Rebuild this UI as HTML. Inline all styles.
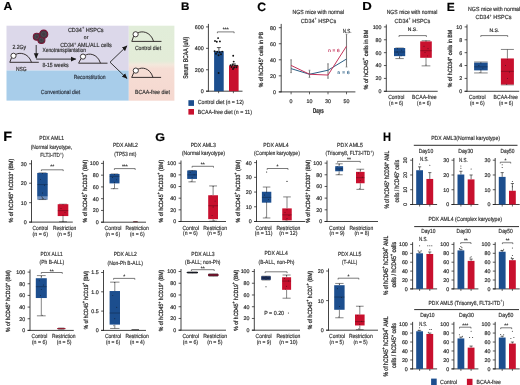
<!DOCTYPE html>
<html><head><meta charset="utf-8"><style>
html,body{margin:0;padding:0;background:#fff;width:520px;height:385px;overflow:hidden}
text{font-family:"Liberation Sans", sans-serif;text-rendering:geometricPrecision;stroke-width:0.18px;stroke-linejoin:round}
</style></head><body>
<svg width="520" height="385" viewBox="0 0 520 385" style="display:block;filter:blur(0.35px)">
<rect width="520" height="385" fill="#fff"/>
<g font-family='"Liberation Sans", sans-serif'>
<text x="3.40" y="10.00" font-size="11.67" fill="#000" font-weight="bold" textLength="8.80" lengthAdjust="spacingAndGlyphs" stroke="#000">A</text>
<defs><linearGradient id="gp" x1="0" y1="0" x2="0" y2="1"><stop offset="0" stop-color="#e1edd9"/><stop offset="0.47" stop-color="#e3ecd8"/><stop offset="0.52" stop-color="#f3e8dc"/><stop offset="0.575" stop-color="#f6ddd4"/><stop offset="1" stop-color="#f5d8d0"/></linearGradient></defs>
<rect x="6.50" y="25.70" width="122.30" height="44.80" fill="#dcd8ea"/>
<rect x="6.50" y="70.50" width="122.30" height="30.10" fill="#a8cdea"/>
<rect x="128.80" y="25.70" width="45.60" height="75.00" fill="url(#gp)"/>
<path d="M9.80,62.30 H38.80" stroke="#2e2828" stroke-width="0.95" fill="none"/>
<path d="M9.80,62.30 L11.55,57.62" stroke="#2e2828" stroke-width="0.95" fill="none"/>
<path d="M15.71,54.50 C18.90,52.29 28.30,52.42 31.50,62.30" stroke="#2e2828" stroke-width="0.95" fill="none"/>
<circle cx="13.50" cy="55.80" r="2.60" fill="#fff" stroke="#2e2828" stroke-width="0.9"/>
<path d="M78.60,63.20 H107.50" stroke="#2e2828" stroke-width="0.95" fill="none"/>
<path d="M78.60,63.20 L81.05,58.42" stroke="#2e2828" stroke-width="0.95" fill="none"/>
<path d="M85.21,55.30 C88.40,53.09 97.30,53.22 100.50,63.20" stroke="#2e2828" stroke-width="0.95" fill="none"/>
<circle cx="83.00" cy="56.60" r="2.60" fill="#fff" stroke="#2e2828" stroke-width="0.9"/>
<path d="M131.80,41.40 H161.50" stroke="#2e2828" stroke-width="0.95" fill="none"/>
<path d="M131.80,41.40 L133.65,36.12" stroke="#2e2828" stroke-width="0.95" fill="none"/>
<path d="M137.81,33.00 C141.00,30.79 150.40,30.92 153.60,41.40" stroke="#2e2828" stroke-width="0.95" fill="none"/>
<circle cx="135.60" cy="34.30" r="2.60" fill="#fff" stroke="#2e2828" stroke-width="0.9"/>
<path d="M131.70,77.40 H161.10" stroke="#2e2828" stroke-width="0.95" fill="none"/>
<path d="M131.70,77.40 L133.85,72.42" stroke="#2e2828" stroke-width="0.95" fill="none"/>
<path d="M138.01,69.30 C141.20,67.09 149.80,67.22 153.00,77.40" stroke="#2e2828" stroke-width="0.95" fill="none"/>
<circle cx="135.80" cy="70.60" r="2.60" fill="#fff" stroke="#2e2828" stroke-width="0.9"/>
<circle cx="36.80" cy="36.80" r="3.50" fill="#413a42" stroke="#7a1636" stroke-width="1.1"/>
<circle cx="41.40" cy="39.90" r="3.50" fill="#413a42" stroke="#7a1636" stroke-width="1.1"/>
<circle cx="43.70" cy="34.20" r="4.10" fill="#413a42" stroke="#7a1636" stroke-width="1.1"/>
<circle cx="36.80" cy="36.80" r="1.80" fill="none" stroke="#5a5560" stroke-width="0.5"/>
<circle cx="41.40" cy="39.90" r="1.80" fill="none" stroke="#5a5560" stroke-width="0.5"/>
<circle cx="43.70" cy="34.20" r="2.20" fill="none" stroke="#5a5560" stroke-width="0.5"/>
<defs><marker id="ah" markerWidth="6" markerHeight="6" refX="5" refY="3" orient="auto" markerUnits="userSpaceOnUse"><path d="M0,0.6 L5.5,3 L0,5.4 Z" fill="#1a1a1a"/></marker></defs>
<path d="M36.2,45 V58.2" stroke="#1a1a1a" stroke-width="0.85" fill="none" marker-end="url(#ah)"/>
<path d="M36.2,59.1 H75.8" stroke="#1a1a1a" stroke-width="0.85" fill="none" marker-end="url(#ah)"/>
<path d="M110,62.2 L127,45.9" stroke="#1a1a1a" stroke-width="0.85" fill="none" marker-end="url(#ah)"/>
<path d="M110,62.2 L127,78.5" stroke="#1a1a1a" stroke-width="0.85" fill="none" marker-end="url(#ah)"/>
<text x="12.40" y="49.30" font-size="5.90" fill="#303030" font-weight="normal" textLength="13.70" lengthAdjust="spacingAndGlyphs" stroke="#303030">2.2Gy</text>
<text x="15.90" y="71.00" font-size="5.90" fill="#303030" font-weight="normal" textLength="10.70" lengthAdjust="spacingAndGlyphs" stroke="#303030">NSG</text>
<text x="67.90" y="31.60" font-size="5.90" fill="#303030" font-weight="normal" textLength="35.70" lengthAdjust="spacingAndGlyphs" stroke="#303030">CD34<tspan dy="-2.48" font-size="4.13">+</tspan><tspan dy="2.48"> HSPCs</tspan></text>
<text x="86.10" y="38.90" font-size="5.00" fill="#303030" font-weight="normal" text-anchor="middle" stroke="#303030">or</text>
<text x="60.20" y="47.00" font-size="5.90" fill="#303030" font-weight="normal" textLength="51.50" lengthAdjust="spacingAndGlyphs" stroke="#303030">CD34<tspan dy="-2.48" font-size="4.13">+</tspan><tspan dy="2.48"> AML/ALL cells</tspan></text>
<text x="42.40" y="52.00" font-size="5.90" fill="#303030" font-weight="normal" textLength="43.60" lengthAdjust="spacingAndGlyphs" stroke="#303030">Xenotransplantation</text>
<text x="42.40" y="66.80" font-size="5.90" fill="#303030" font-weight="normal" textLength="26.30" lengthAdjust="spacingAndGlyphs" stroke="#303030">8-15 weeks</text>
<text x="73.70" y="79.00" font-size="5.90" fill="#2b3340" font-weight="normal" textLength="31.80" lengthAdjust="spacingAndGlyphs" stroke="#2b3340">Reconstitution</text>
<text x="40.80" y="94.00" font-size="5.90" fill="#2b3340" font-weight="normal" textLength="39.40" lengthAdjust="spacingAndGlyphs" stroke="#2b3340">Conventional diet</text>
<text x="134.90" y="50.00" font-size="5.90" fill="#303030" font-weight="normal" textLength="26.20" lengthAdjust="spacingAndGlyphs" stroke="#303030">Control diet</text>
<text x="134.90" y="93.60" font-size="5.90" fill="#303030" font-weight="normal" textLength="35.10" lengthAdjust="spacingAndGlyphs" stroke="#303030">BCAA-free diet</text>
<text x="181.10" y="10.30" font-size="10.97" fill="#000" font-weight="bold" textLength="8.40" lengthAdjust="spacingAndGlyphs" stroke="#000">B</text>
<line x1="208.40" y1="23.90" x2="208.40" y2="91.60" stroke="#222" stroke-width="0.85"/>
<line x1="206.00" y1="91.20" x2="242.50" y2="91.20" stroke="#222" stroke-width="0.85"/>
<line x1="206.00" y1="91.20" x2="208.40" y2="91.20" stroke="#222" stroke-width="0.75"/>
<text x="203.60" y="93.11" text-anchor="end" font-size="5.30" fill="#2a2a2a" stroke="#2a2a2a">0</text>
<line x1="206.00" y1="69.77" x2="208.40" y2="69.77" stroke="#222" stroke-width="0.75"/>
<text x="203.60" y="71.67" text-anchor="end" font-size="5.30" fill="#2a2a2a" stroke="#2a2a2a">200</text>
<line x1="206.00" y1="48.33" x2="208.40" y2="48.33" stroke="#222" stroke-width="0.75"/>
<text x="203.60" y="50.24" text-anchor="end" font-size="5.30" fill="#2a2a2a" stroke="#2a2a2a">400</text>
<line x1="206.00" y1="26.90" x2="208.40" y2="26.90" stroke="#222" stroke-width="0.75"/>
<text x="203.60" y="28.81" text-anchor="end" font-size="5.30" fill="#2a2a2a" stroke="#2a2a2a">600</text>
<rect x="214.10" y="51.23" width="9.60" height="39.97" fill="#1c4e8e"/>
<rect x="229.00" y="65.48" width="9.60" height="25.72" fill="#c8102e"/>
<line x1="218.90" y1="51.23" x2="218.90" y2="47.58" stroke="#111" stroke-width="0.7"/>
<line x1="216.90" y1="47.58" x2="220.90" y2="47.58" stroke="#111" stroke-width="0.7"/>
<line x1="233.80" y1="65.48" x2="233.80" y2="63.87" stroke="#111" stroke-width="0.7"/>
<line x1="231.80" y1="63.87" x2="235.80" y2="63.87" stroke="#111" stroke-width="0.7"/>
<circle cx="215.00" cy="41.00" r="0.95" fill="#111"/>
<circle cx="218.10" cy="38.10" r="0.95" fill="#111"/>
<circle cx="219.90" cy="41.40" r="0.95" fill="#111"/>
<circle cx="216.80" cy="41.70" r="0.95" fill="#111"/>
<circle cx="214.60" cy="51.20" r="0.95" fill="#111"/>
<circle cx="217.20" cy="51.80" r="0.95" fill="#111"/>
<circle cx="219.60" cy="52.20" r="0.95" fill="#111"/>
<circle cx="222.20" cy="51.60" r="0.95" fill="#111"/>
<circle cx="216.00" cy="53.80" r="0.95" fill="#111"/>
<circle cx="221.00" cy="54.20" r="0.95" fill="#111"/>
<circle cx="218.60" cy="55.20" r="0.95" fill="#111"/>
<circle cx="218.60" cy="73.00" r="0.95" fill="#111"/>
<circle cx="233.20" cy="55.80" r="0.95" fill="#111"/>
<circle cx="233.70" cy="61.60" r="0.95" fill="#111"/>
<circle cx="230.60" cy="65.20" r="0.95" fill="#111"/>
<circle cx="232.60" cy="65.00" r="0.95" fill="#111"/>
<circle cx="235.00" cy="65.50" r="0.95" fill="#111"/>
<circle cx="237.00" cy="65.60" r="0.95" fill="#111"/>
<circle cx="231.60" cy="67.00" r="0.95" fill="#111"/>
<circle cx="234.10" cy="67.50" r="0.95" fill="#111"/>
<circle cx="236.40" cy="67.20" r="0.95" fill="#111"/>
<circle cx="233.00" cy="69.00" r="0.95" fill="#111"/>
<line x1="218.60" y1="91.20" x2="218.60" y2="93.20" stroke="#222" stroke-width="0.7"/>
<line x1="233.40" y1="91.20" x2="233.40" y2="93.20" stroke="#222" stroke-width="0.7"/>
<path d="M217.40,33.20 V31.90 H234.10 V33.20" fill="none" stroke="#333" stroke-width="0.65"/>
<text x="225.75" y="31.40" text-anchor="middle" font-size="5.00" fill="#222" stroke="#222">***</text>
<text transform="translate(185.90,57.75) rotate(-90)" x="0" y="2.48" text-anchor="middle" font-size="6.90" fill="#2a2a2a" style="stroke-width:0.26px" textLength="42.10" lengthAdjust="spacingAndGlyphs" stroke="#2a2a2a">Serum BCAA (uM)</text>
<rect x="188.40" y="100.20" width="5.60" height="5.70" fill="#1c4e8e"/>
<rect x="188.40" y="109.00" width="5.60" height="5.60" fill="#c8102e"/>
<text x="197.80" y="104.40" font-size="5.90" fill="#303030" font-weight="normal" textLength="46.00" lengthAdjust="spacingAndGlyphs" stroke="#303030">Control diet (n = 12)</text>
<text x="197.80" y="113.50" font-size="5.90" fill="#303030" font-weight="normal" textLength="54.10" lengthAdjust="spacingAndGlyphs" stroke="#303030">BCAA-free diet (n = 11)</text>
<text x="257.20" y="10.80" font-size="12.08" fill="#000" font-weight="bold" textLength="8.80" lengthAdjust="spacingAndGlyphs" stroke="#000">C</text>
<line x1="281.20" y1="23.90" x2="281.20" y2="92.30" stroke="#222" stroke-width="0.85"/>
<line x1="278.80" y1="91.90" x2="355.40" y2="91.90" stroke="#222" stroke-width="0.85"/>
<line x1="278.80" y1="91.90" x2="281.20" y2="91.90" stroke="#222" stroke-width="0.75"/>
<text x="275.90" y="93.81" text-anchor="end" font-size="5.30" fill="#2a2a2a" stroke="#2a2a2a">0</text>
<line x1="278.80" y1="75.85" x2="281.20" y2="75.85" stroke="#222" stroke-width="0.75"/>
<text x="275.90" y="77.76" text-anchor="end" font-size="5.30" fill="#2a2a2a" stroke="#2a2a2a">20</text>
<line x1="278.80" y1="59.80" x2="281.20" y2="59.80" stroke="#222" stroke-width="0.75"/>
<text x="275.90" y="61.71" text-anchor="end" font-size="5.30" fill="#2a2a2a" stroke="#2a2a2a">40</text>
<line x1="278.80" y1="43.75" x2="281.20" y2="43.75" stroke="#222" stroke-width="0.75"/>
<text x="275.90" y="45.66" text-anchor="end" font-size="5.30" fill="#2a2a2a" stroke="#2a2a2a">60</text>
<line x1="278.80" y1="27.70" x2="281.20" y2="27.70" stroke="#222" stroke-width="0.75"/>
<text x="275.90" y="29.61" text-anchor="end" font-size="5.30" fill="#2a2a2a" stroke="#2a2a2a">80</text>
<line x1="291.10" y1="91.90" x2="291.10" y2="94.30" stroke="#222" stroke-width="0.7"/>
<line x1="309.50" y1="91.90" x2="309.50" y2="94.30" stroke="#222" stroke-width="0.7"/>
<line x1="328.00" y1="91.90" x2="328.00" y2="94.30" stroke="#222" stroke-width="0.7"/>
<line x1="346.50" y1="91.90" x2="346.50" y2="94.30" stroke="#222" stroke-width="0.7"/>
<text x="291.10" y="102.80" font-size="5.30" fill="#2a2a2a" font-weight="normal" text-anchor="middle" stroke="#2a2a2a">0</text>
<text x="309.50" y="102.80" font-size="5.30" fill="#2a2a2a" font-weight="normal" text-anchor="middle" stroke="#2a2a2a">10</text>
<text x="328.00" y="102.80" font-size="5.30" fill="#2a2a2a" font-weight="normal" text-anchor="middle" stroke="#2a2a2a">30</text>
<text x="346.50" y="102.80" font-size="5.30" fill="#2a2a2a" font-weight="normal" text-anchor="middle" stroke="#2a2a2a">50</text>
<text x="313.05" y="112.50" font-size="7.00" fill="#1a1a1a" font-weight="bold" textLength="10.70" lengthAdjust="spacingAndGlyphs" stroke="#1a1a1a">Days</text>
<text transform="translate(261.10,59.55) rotate(-90)" x="0" y="2.16" text-anchor="middle" font-size="6.00" fill="#2a2a2a" style="stroke-width:0.26px" textLength="55.50" lengthAdjust="spacingAndGlyphs" stroke="#2a2a2a">% of hCD45<tspan dy="-2.52" font-size="4.20">+</tspan><tspan dy="2.52"> cells in PB</tspan></text>
<text x="292.60" y="13.80" font-size="5.90" fill="#303030" font-weight="normal" textLength="51.30" lengthAdjust="spacingAndGlyphs" stroke="#303030">NGS mice with normal</text>
<text x="300.70" y="22.50" font-size="5.90" fill="#303030" font-weight="normal" textLength="35.40" lengthAdjust="spacingAndGlyphs" stroke="#303030">CD34<tspan dy="-2.48" font-size="4.13">+</tspan><tspan dy="2.48"> HSPCs</tspan></text>
<line x1="291.10" y1="72.64" x2="291.10" y2="59.80" stroke="#7c7c7c" stroke-width="1.1"/>
<line x1="290.20" y1="72.64" x2="292.00" y2="72.64" stroke="#7c7c7c" stroke-width="0.7"/>
<line x1="290.20" y1="59.80" x2="292.00" y2="59.80" stroke="#7c7c7c" stroke-width="0.7"/>
<line x1="309.50" y1="77.45" x2="309.50" y2="70.23" stroke="#7c7c7c" stroke-width="1.1"/>
<line x1="308.60" y1="77.45" x2="310.40" y2="77.45" stroke="#7c7c7c" stroke-width="0.7"/>
<line x1="308.60" y1="70.23" x2="310.40" y2="70.23" stroke="#7c7c7c" stroke-width="0.7"/>
<line x1="328.00" y1="78.26" x2="328.00" y2="63.81" stroke="#7c7c7c" stroke-width="1.1"/>
<line x1="327.10" y1="78.26" x2="328.90" y2="78.26" stroke="#7c7c7c" stroke-width="0.7"/>
<line x1="327.10" y1="63.81" x2="328.90" y2="63.81" stroke="#7c7c7c" stroke-width="0.7"/>
<line x1="346.50" y1="67.02" x2="346.50" y2="34.12" stroke="#7c7c7c" stroke-width="1.1"/>
<line x1="345.60" y1="67.02" x2="347.40" y2="67.02" stroke="#7c7c7c" stroke-width="0.7"/>
<line x1="345.60" y1="34.12" x2="347.40" y2="34.12" stroke="#7c7c7c" stroke-width="0.7"/>
<polyline points="291.10,68.63 309.50,74.25 328.00,70.23 346.50,59.00" fill="none" stroke="#2b5f86" stroke-width="1.0"/>
<polyline points="291.10,65.42 309.50,74.25 328.00,75.05 346.50,46.16" fill="none" stroke="#c4335a" stroke-width="1.0"/>
<text x="342.80" y="33.40" font-size="5.90" fill="#303030" font-weight="normal" textLength="8.80" lengthAdjust="spacingAndGlyphs" stroke="#303030">N.S.</text>
<text x="328.30" y="51.50" font-size="4.70" fill="#c4335a" font-weight="normal" textLength="11.30" lengthAdjust="spacing" stroke="#c4335a">n = 6</text>
<text x="337.50" y="73.90" font-size="4.70" fill="#2b5f86" font-weight="normal" textLength="12.10" lengthAdjust="spacing" stroke="#2b5f86">n = 6</text>
<text x="362.20" y="10.30" font-size="11.67" fill="#000" font-weight="bold" textLength="9.50" lengthAdjust="spacingAndGlyphs" stroke="#000">D</text>
<text x="386.70" y="13.70" font-size="5.90" fill="#303030" font-weight="normal" textLength="50.60" lengthAdjust="spacingAndGlyphs" stroke="#303030">NGS mice with normal</text>
<text x="394.50" y="22.50" font-size="5.90" fill="#303030" font-weight="normal" textLength="35.80" lengthAdjust="spacingAndGlyphs" stroke="#303030">CD34<tspan dy="-2.48" font-size="4.13">+</tspan><tspan dy="2.48"> HSPCs</tspan></text>
<line x1="386.30" y1="24.50" x2="386.30" y2="91.70" stroke="#222" stroke-width="0.85"/>
<line x1="383.90" y1="91.30" x2="437.70" y2="91.30" stroke="#222" stroke-width="0.85"/>
<line x1="383.90" y1="91.30" x2="386.30" y2="91.30" stroke="#222" stroke-width="0.75"/>
<text x="381.50" y="93.21" text-anchor="end" font-size="5.30" fill="#2a2a2a" stroke="#2a2a2a">0</text>
<line x1="383.90" y1="78.42" x2="386.30" y2="78.42" stroke="#222" stroke-width="0.75"/>
<text x="381.50" y="80.33" text-anchor="end" font-size="5.30" fill="#2a2a2a" stroke="#2a2a2a">20</text>
<line x1="383.90" y1="65.54" x2="386.30" y2="65.54" stroke="#222" stroke-width="0.75"/>
<text x="381.50" y="67.45" text-anchor="end" font-size="5.30" fill="#2a2a2a" stroke="#2a2a2a">40</text>
<line x1="383.90" y1="52.66" x2="386.30" y2="52.66" stroke="#222" stroke-width="0.75"/>
<text x="381.50" y="54.57" text-anchor="end" font-size="5.30" fill="#2a2a2a" stroke="#2a2a2a">60</text>
<line x1="383.90" y1="39.78" x2="386.30" y2="39.78" stroke="#222" stroke-width="0.75"/>
<text x="381.50" y="41.69" text-anchor="end" font-size="5.30" fill="#2a2a2a" stroke="#2a2a2a">80</text>
<line x1="383.90" y1="26.90" x2="386.30" y2="26.90" stroke="#222" stroke-width="0.75"/>
<text x="381.50" y="28.81" text-anchor="end" font-size="5.30" fill="#2a2a2a" stroke="#2a2a2a">100</text>
<line x1="399.60" y1="48.02" x2="399.60" y2="48.02" stroke="#333" stroke-width="0.6"/>
<line x1="399.60" y1="56.14" x2="399.60" y2="58.58" stroke="#333" stroke-width="0.6"/>
<line x1="395.40" y1="48.02" x2="403.80" y2="48.02" stroke="#333" stroke-width="0.6"/>
<line x1="395.40" y1="58.58" x2="403.80" y2="58.58" stroke="#333" stroke-width="0.6"/>
<rect x="394.00" y="48.02" width="11.20" height="8.11" fill="#1c4e8e"/>
<line x1="394.00" y1="52.02" x2="405.20" y2="52.02" stroke="rgba(0,0,0,0.55)" stroke-width="0.5"/>
<circle cx="397.60" cy="48.80" r="0.45" fill="#111"/>
<circle cx="401.60" cy="50.08" r="0.45" fill="#111"/>
<circle cx="398.60" cy="53.95" r="0.45" fill="#111"/>
<circle cx="401.10" cy="55.88" r="0.45" fill="#111"/>
<circle cx="399.60" cy="57.17" r="0.45" fill="#111"/>
<circle cx="397.10" cy="52.02" r="0.45" fill="#111"/>
<line x1="426.00" y1="40.75" x2="426.00" y2="41.39" stroke="#333" stroke-width="0.6"/>
<line x1="426.00" y1="57.81" x2="426.00" y2="65.86" stroke="#333" stroke-width="0.6"/>
<line x1="421.65" y1="40.75" x2="430.35" y2="40.75" stroke="#333" stroke-width="0.6"/>
<line x1="421.65" y1="65.86" x2="430.35" y2="65.86" stroke="#333" stroke-width="0.6"/>
<rect x="420.20" y="41.39" width="11.60" height="16.42" fill="#c8102e"/>
<line x1="420.20" y1="50.73" x2="431.80" y2="50.73" stroke="rgba(0,0,0,0.55)" stroke-width="0.5"/>
<circle cx="426.00" cy="41.07" r="0.45" fill="#111"/>
<circle cx="424.00" cy="46.22" r="0.45" fill="#111"/>
<circle cx="428.00" cy="48.80" r="0.45" fill="#111"/>
<circle cx="425.00" cy="52.66" r="0.45" fill="#111"/>
<circle cx="427.50" cy="55.88" r="0.45" fill="#111"/>
<circle cx="426.00" cy="64.90" r="0.45" fill="#111"/>
<path d="M399.00,36.90 V35.60 H426.40 V36.90" fill="none" stroke="#333" stroke-width="0.65"/>
<text x="412.70" y="30.70" text-anchor="middle" font-size="5.00" fill="#222" stroke="#222">N.S.</text>
<text transform="translate(365.40,59.60) rotate(-90)" x="0" y="2.16" text-anchor="middle" font-size="6.00" fill="#2a2a2a" style="stroke-width:0.26px" textLength="59.60" lengthAdjust="spacingAndGlyphs" stroke="#2a2a2a">% of hCD45<tspan dy="-2.52" font-size="4.20">+</tspan><tspan dy="2.52"> cells in BM</tspan></text>
<text x="388.20" y="99.40" font-size="5.90" fill="#303030" font-weight="normal" textLength="16.20" lengthAdjust="spacingAndGlyphs" stroke="#303030">Control</text>
<text x="389.10" y="105.30" font-size="5.90" fill="#303030" font-weight="normal" textLength="14.10" lengthAdjust="spacingAndGlyphs" stroke="#303030">(n = 6)</text>
<text x="412.10" y="99.40" font-size="5.90" fill="#303030" font-weight="normal" textLength="24.60" lengthAdjust="spacingAndGlyphs" stroke="#303030">BCAA-free</text>
<text x="417.10" y="105.30" font-size="5.90" fill="#303030" font-weight="normal" textLength="13.80" lengthAdjust="spacingAndGlyphs" stroke="#303030">(n = 6)</text>
<text x="446.70" y="10.80" font-size="11.81" fill="#000" font-weight="bold" textLength="8.00" lengthAdjust="spacingAndGlyphs" stroke="#000">E</text>
<text x="468.10" y="10.90" font-size="5.90" fill="#303030" font-weight="normal" textLength="52.00" lengthAdjust="spacingAndGlyphs" stroke="#303030">NGS mice with normal</text>
<text x="475.40" y="19.30" font-size="5.90" fill="#303030" font-weight="normal" textLength="36.00" lengthAdjust="spacingAndGlyphs" stroke="#303030">CD34<tspan dy="-2.48" font-size="4.13">+</tspan><tspan dy="2.48"> HSPCs</tspan></text>
<line x1="467.00" y1="24.50" x2="467.00" y2="91.70" stroke="#222" stroke-width="0.85"/>
<line x1="464.60" y1="91.30" x2="519.20" y2="91.30" stroke="#222" stroke-width="0.85"/>
<line x1="464.60" y1="91.30" x2="467.00" y2="91.30" stroke="#222" stroke-width="0.75"/>
<text x="462.20" y="93.21" text-anchor="end" font-size="5.30" fill="#2a2a2a" stroke="#2a2a2a">0</text>
<line x1="464.60" y1="78.42" x2="467.00" y2="78.42" stroke="#222" stroke-width="0.75"/>
<text x="462.20" y="80.33" text-anchor="end" font-size="5.30" fill="#2a2a2a" stroke="#2a2a2a">2</text>
<line x1="464.60" y1="65.54" x2="467.00" y2="65.54" stroke="#222" stroke-width="0.75"/>
<text x="462.20" y="67.45" text-anchor="end" font-size="5.30" fill="#2a2a2a" stroke="#2a2a2a">4</text>
<line x1="464.60" y1="52.66" x2="467.00" y2="52.66" stroke="#222" stroke-width="0.75"/>
<text x="462.20" y="54.57" text-anchor="end" font-size="5.30" fill="#2a2a2a" stroke="#2a2a2a">6</text>
<line x1="464.60" y1="39.78" x2="467.00" y2="39.78" stroke="#222" stroke-width="0.75"/>
<text x="462.20" y="41.69" text-anchor="end" font-size="5.30" fill="#2a2a2a" stroke="#2a2a2a">8</text>
<line x1="464.60" y1="26.90" x2="467.00" y2="26.90" stroke="#222" stroke-width="0.75"/>
<text x="462.20" y="28.81" text-anchor="end" font-size="5.30" fill="#2a2a2a" stroke="#2a2a2a">10</text>
<line x1="480.90" y1="62.00" x2="480.90" y2="62.64" stroke="#333" stroke-width="0.6"/>
<line x1="480.90" y1="70.37" x2="480.90" y2="72.95" stroke="#333" stroke-width="0.6"/>
<line x1="474.10" y1="62.00" x2="487.70" y2="62.00" stroke="#333" stroke-width="0.6"/>
<line x1="474.10" y1="72.95" x2="487.70" y2="72.95" stroke="#333" stroke-width="0.6"/>
<rect x="474.10" y="62.64" width="13.60" height="7.73" fill="#1c4e8e"/>
<line x1="474.10" y1="66.83" x2="487.70" y2="66.83" stroke="rgba(0,0,0,0.55)" stroke-width="0.5"/>
<circle cx="480.90" cy="62.96" r="0.45" fill="#111"/>
<circle cx="478.90" cy="65.54" r="0.45" fill="#111"/>
<circle cx="482.90" cy="68.12" r="0.45" fill="#111"/>
<circle cx="480.90" cy="70.05" r="0.45" fill="#111"/>
<circle cx="479.90" cy="72.62" r="0.45" fill="#111"/>
<line x1="507.40" y1="49.44" x2="507.40" y2="58.46" stroke="#333" stroke-width="0.6"/>
<line x1="507.40" y1="84.54" x2="507.40" y2="84.86" stroke="#333" stroke-width="0.6"/>
<line x1="500.90" y1="49.44" x2="513.90" y2="49.44" stroke="#333" stroke-width="0.6"/>
<line x1="500.90" y1="84.86" x2="513.90" y2="84.86" stroke="#333" stroke-width="0.6"/>
<rect x="500.90" y="58.46" width="13.00" height="26.08" fill="#c8102e"/>
<line x1="500.90" y1="71.34" x2="513.90" y2="71.34" stroke="rgba(0,0,0,0.55)" stroke-width="0.5"/>
<circle cx="507.40" cy="59.10" r="0.45" fill="#111"/>
<circle cx="505.40" cy="65.54" r="0.45" fill="#111"/>
<circle cx="509.40" cy="71.98" r="0.45" fill="#111"/>
<circle cx="507.40" cy="78.42" r="0.45" fill="#111"/>
<circle cx="506.40" cy="84.22" r="0.45" fill="#111"/>
<path d="M480.80,36.90 V35.60 H507.70 V36.90" fill="none" stroke="#333" stroke-width="0.65"/>
<text x="494.25" y="31.50" text-anchor="middle" font-size="5.00" fill="#222" stroke="#222">N.S.</text>
<text transform="translate(450.30,58.55) rotate(-90)" x="0" y="2.16" text-anchor="middle" font-size="6.00" fill="#2a2a2a" style="stroke-width:0.26px" textLength="57.50" lengthAdjust="spacingAndGlyphs" stroke="#2a2a2a">% of hCD34<tspan dy="-2.52" font-size="4.20">+</tspan><tspan dy="2.52"> cells in BM</tspan></text>
<text x="468.70" y="99.40" font-size="5.90" fill="#303030" font-weight="normal" textLength="16.90" lengthAdjust="spacingAndGlyphs" stroke="#303030">Control</text>
<text x="469.90" y="105.30" font-size="5.90" fill="#303030" font-weight="normal" textLength="14.70" lengthAdjust="spacingAndGlyphs" stroke="#303030">(n = 6)</text>
<text x="493.60" y="99.40" font-size="5.90" fill="#303030" font-weight="normal" textLength="24.20" lengthAdjust="spacingAndGlyphs" stroke="#303030">BCAA-free</text>
<text x="498.90" y="105.30" font-size="5.90" fill="#303030" font-weight="normal" textLength="14.20" lengthAdjust="spacingAndGlyphs" stroke="#303030">(n = 6)</text>
<text x="3.30" y="141.20" font-size="13.61" fill="#000" font-weight="bold" textLength="8.80" lengthAdjust="spacingAndGlyphs" stroke="#000">F</text>
<text x="39.30" y="140.40" font-size="5.90" fill="#303030" font-weight="normal" textLength="24.70" lengthAdjust="spacingAndGlyphs" stroke="#303030">PDX AML1</text>
<text x="30.70" y="149.40" font-size="5.90" fill="#303030" font-weight="normal" textLength="41.50" lengthAdjust="spacingAndGlyphs" stroke="#303030">(Normal karyotype,</text>
<text x="40.30" y="157.20" font-size="5.90" fill="#303030" font-weight="normal" textLength="23.20" lengthAdjust="spacingAndGlyphs" stroke="#303030">FLT3-ITD<tspan dy="-2.48" font-size="4.13">+</tspan><tspan dy="2.48">)</tspan></text>
<line x1="31.50" y1="160.20" x2="31.50" y2="222.50" stroke="#222" stroke-width="0.85"/>
<line x1="29.10" y1="222.10" x2="72.80" y2="222.10" stroke="#222" stroke-width="0.85"/>
<line x1="29.10" y1="222.10" x2="31.50" y2="222.10" stroke="#222" stroke-width="0.75"/>
<text x="26.70" y="224.01" text-anchor="end" font-size="5.30" fill="#2a2a2a" stroke="#2a2a2a">0</text>
<line x1="29.10" y1="202.67" x2="31.50" y2="202.67" stroke="#222" stroke-width="0.75"/>
<text x="26.70" y="204.57" text-anchor="end" font-size="5.30" fill="#2a2a2a" stroke="#2a2a2a">10</text>
<line x1="29.10" y1="183.23" x2="31.50" y2="183.23" stroke="#222" stroke-width="0.75"/>
<text x="26.70" y="185.14" text-anchor="end" font-size="5.30" fill="#2a2a2a" stroke="#2a2a2a">20</text>
<line x1="29.10" y1="163.80" x2="31.50" y2="163.80" stroke="#222" stroke-width="0.75"/>
<text x="26.70" y="165.71" text-anchor="end" font-size="5.30" fill="#2a2a2a" stroke="#2a2a2a">30</text>
<rect x="37.20" y="196.64" width="10.50" height="3.11" fill="#6d8fbf"/>
<line x1="42.45" y1="172.93" x2="42.45" y2="172.93" stroke="#333" stroke-width="0.6"/>
<line x1="42.45" y1="196.64" x2="42.45" y2="199.56" stroke="#333" stroke-width="0.6"/>
<line x1="38.51" y1="172.93" x2="46.39" y2="172.93" stroke="#333" stroke-width="0.6"/>
<line x1="38.51" y1="199.56" x2="46.39" y2="199.56" stroke="#333" stroke-width="0.6"/>
<rect x="37.20" y="172.93" width="10.50" height="23.71" fill="#1c4e8e"/>
<line x1="37.20" y1="184.59" x2="47.70" y2="184.59" stroke="rgba(0,0,0,0.55)" stroke-width="0.5"/>
<circle cx="42.45" cy="173.52" r="0.45" fill="#111"/>
<circle cx="40.45" cy="179.35" r="0.45" fill="#111"/>
<circle cx="44.45" cy="185.18" r="0.45" fill="#111"/>
<circle cx="42.45" cy="192.95" r="0.45" fill="#111"/>
<circle cx="41.45" cy="196.84" r="0.45" fill="#111"/>
<circle cx="43.45" cy="198.78" r="0.45" fill="#111"/>
<line x1="63.00" y1="204.22" x2="63.00" y2="204.22" stroke="#333" stroke-width="0.6"/>
<line x1="63.00" y1="216.08" x2="63.00" y2="221.71" stroke="#333" stroke-width="0.6"/>
<line x1="59.02" y1="204.22" x2="66.97" y2="204.22" stroke="#333" stroke-width="0.6"/>
<line x1="59.02" y1="221.71" x2="66.97" y2="221.71" stroke="#333" stroke-width="0.6"/>
<rect x="57.70" y="204.22" width="10.60" height="11.85" fill="#c8102e"/>
<line x1="57.70" y1="210.63" x2="68.30" y2="210.63" stroke="rgba(0,0,0,0.55)" stroke-width="0.5"/>
<circle cx="63.00" cy="204.61" r="0.45" fill="#111"/>
<circle cx="61.00" cy="208.50" r="0.45" fill="#111"/>
<circle cx="65.00" cy="212.38" r="0.45" fill="#111"/>
<circle cx="63.00" cy="215.30" r="0.45" fill="#111"/>
<circle cx="63.00" cy="221.32" r="0.45" fill="#111"/>
<path d="M41.40,171.10 V169.80 H63.20 V171.10" fill="none" stroke="#333" stroke-width="0.65"/>
<text x="52.30" y="168.40" text-anchor="middle" font-size="5.00" fill="#222" stroke="#222">**</text>
<text transform="translate(11.20,190.55) rotate(-90)" x="0" y="2.16" text-anchor="middle" font-size="6.00" fill="#2a2a2a" style="stroke-width:0.26px" textLength="63.70" lengthAdjust="spacingAndGlyphs" stroke="#2a2a2a">% of hCD45<tspan dy="-2.52" font-size="4.20">+</tspan><tspan dy="2.52"> hCD33<tspan dy="-2.52" font-size="4.20">+</tspan><tspan dy="2.52"> (BM)</tspan></tspan></text>
<text x="32.50" y="230.00" font-size="5.90" fill="#303030" font-weight="normal" textLength="15.70" lengthAdjust="spacingAndGlyphs" stroke="#303030">Control</text>
<text x="52.90" y="230.00" font-size="5.90" fill="#303030" font-weight="normal" textLength="23.40" lengthAdjust="spacingAndGlyphs" stroke="#303030">Restriction</text>
<text x="32.50" y="236.00" font-size="5.90" fill="#303030" font-weight="normal" textLength="15.40" lengthAdjust="spacingAndGlyphs" stroke="#303030">(n = 6)</text>
<text x="57.30" y="236.00" font-size="5.90" fill="#303030" font-weight="normal" textLength="14.80" lengthAdjust="spacingAndGlyphs" stroke="#303030">(n = 5)</text>
<text x="112.90" y="147.00" font-size="5.90" fill="#303030" font-weight="normal" textLength="25.00" lengthAdjust="spacingAndGlyphs" stroke="#303030">PDX AML2</text>
<text x="114.20" y="155.50" font-size="5.90" fill="#303030" font-weight="normal" textLength="22.10" lengthAdjust="spacingAndGlyphs" stroke="#303030">(TP53 mt)</text>
<line x1="103.40" y1="160.80" x2="103.40" y2="222.60" stroke="#222" stroke-width="0.85"/>
<line x1="101.00" y1="222.20" x2="146.00" y2="222.20" stroke="#222" stroke-width="0.85"/>
<line x1="101.00" y1="222.20" x2="103.40" y2="222.20" stroke="#222" stroke-width="0.75"/>
<text x="98.60" y="224.11" text-anchor="end" font-size="5.30" fill="#2a2a2a" stroke="#2a2a2a">0</text>
<line x1="101.00" y1="210.44" x2="103.40" y2="210.44" stroke="#222" stroke-width="0.75"/>
<text x="98.60" y="212.35" text-anchor="end" font-size="5.30" fill="#2a2a2a" stroke="#2a2a2a">20</text>
<line x1="101.00" y1="198.68" x2="103.40" y2="198.68" stroke="#222" stroke-width="0.75"/>
<text x="98.60" y="200.59" text-anchor="end" font-size="5.30" fill="#2a2a2a" stroke="#2a2a2a">40</text>
<line x1="101.00" y1="186.92" x2="103.40" y2="186.92" stroke="#222" stroke-width="0.75"/>
<text x="98.60" y="188.83" text-anchor="end" font-size="5.30" fill="#2a2a2a" stroke="#2a2a2a">60</text>
<line x1="101.00" y1="175.16" x2="103.40" y2="175.16" stroke="#222" stroke-width="0.75"/>
<text x="98.60" y="177.07" text-anchor="end" font-size="5.30" fill="#2a2a2a" stroke="#2a2a2a">80</text>
<line x1="101.00" y1="163.40" x2="103.40" y2="163.40" stroke="#222" stroke-width="0.75"/>
<text x="98.60" y="165.31" text-anchor="end" font-size="5.30" fill="#2a2a2a" stroke="#2a2a2a">100</text>
<line x1="114.50" y1="173.98" x2="114.50" y2="173.98" stroke="#333" stroke-width="0.6"/>
<line x1="114.50" y1="183.39" x2="114.50" y2="188.68" stroke="#333" stroke-width="0.6"/>
<line x1="110.75" y1="173.98" x2="118.25" y2="173.98" stroke="#333" stroke-width="0.6"/>
<line x1="110.75" y1="188.68" x2="118.25" y2="188.68" stroke="#333" stroke-width="0.6"/>
<rect x="109.50" y="173.98" width="10.00" height="9.41" fill="#1c4e8e"/>
<line x1="109.50" y1="176.34" x2="119.50" y2="176.34" stroke="rgba(0,0,0,0.55)" stroke-width="0.5"/>
<circle cx="114.50" cy="174.57" r="0.45" fill="#111"/>
<circle cx="112.50" cy="177.51" r="0.45" fill="#111"/>
<circle cx="116.50" cy="179.86" r="0.45" fill="#111"/>
<circle cx="114.50" cy="182.22" r="0.45" fill="#111"/>
<circle cx="113.50" cy="188.68" r="0.45" fill="#111"/>
<line x1="133.20" y1="221.70" x2="137.70" y2="221.70" stroke="#5a2a30" stroke-width="1.0"/>
<path d="M114.40,169.90 V168.60 H135.20 V169.90" fill="none" stroke="#333" stroke-width="0.65"/>
<text x="124.80" y="168.30" text-anchor="middle" font-size="5.00" fill="#222" stroke="#222">***</text>
<text transform="translate(84.60,191.10) rotate(-90)" x="0" y="2.16" text-anchor="middle" font-size="6.00" fill="#2a2a2a" style="stroke-width:0.26px" textLength="62.60" lengthAdjust="spacingAndGlyphs" stroke="#2a2a2a">% of hCD45<tspan dy="-2.52" font-size="4.20">+</tspan><tspan dy="2.52"> hCD33<tspan dy="-2.52" font-size="4.20">+</tspan><tspan dy="2.52"> (BM)</tspan></tspan></text>
<text x="104.50" y="230.00" font-size="5.90" fill="#303030" font-weight="normal" textLength="17.00" lengthAdjust="spacingAndGlyphs" stroke="#303030">Control</text>
<text x="125.40" y="230.00" font-size="5.90" fill="#303030" font-weight="normal" textLength="23.40" lengthAdjust="spacingAndGlyphs" stroke="#303030">Restriction</text>
<text x="105.40" y="236.00" font-size="5.90" fill="#303030" font-weight="normal" textLength="14.70" lengthAdjust="spacingAndGlyphs" stroke="#303030">(n = 6)</text>
<text x="129.90" y="236.00" font-size="5.90" fill="#303030" font-weight="normal" textLength="14.70" lengthAdjust="spacingAndGlyphs" stroke="#303030">(n = 6)</text>
<text x="40.50" y="256.00" font-size="5.90" fill="#303030" font-weight="normal" textLength="22.30" lengthAdjust="spacingAndGlyphs" stroke="#303030">PDX ALL1</text>
<text x="39.60" y="264.40" font-size="5.90" fill="#303030" font-weight="normal" textLength="24.60" lengthAdjust="spacingAndGlyphs" stroke="#303030">(Ph B-ALL)</text>
<line x1="30.00" y1="269.50" x2="30.00" y2="330.80" stroke="#222" stroke-width="0.85"/>
<line x1="27.60" y1="330.40" x2="73.80" y2="330.40" stroke="#222" stroke-width="0.85"/>
<line x1="27.60" y1="330.40" x2="30.00" y2="330.40" stroke="#222" stroke-width="0.75"/>
<text x="25.20" y="332.31" text-anchor="end" font-size="5.30" fill="#2a2a2a" stroke="#2a2a2a">0</text>
<line x1="27.60" y1="318.74" x2="30.00" y2="318.74" stroke="#222" stroke-width="0.75"/>
<text x="25.20" y="320.65" text-anchor="end" font-size="5.30" fill="#2a2a2a" stroke="#2a2a2a">20</text>
<line x1="27.60" y1="307.08" x2="30.00" y2="307.08" stroke="#222" stroke-width="0.75"/>
<text x="25.20" y="308.99" text-anchor="end" font-size="5.30" fill="#2a2a2a" stroke="#2a2a2a">40</text>
<line x1="27.60" y1="295.42" x2="30.00" y2="295.42" stroke="#222" stroke-width="0.75"/>
<text x="25.20" y="297.33" text-anchor="end" font-size="5.30" fill="#2a2a2a" stroke="#2a2a2a">60</text>
<line x1="27.60" y1="283.76" x2="30.00" y2="283.76" stroke="#222" stroke-width="0.75"/>
<text x="25.20" y="285.67" text-anchor="end" font-size="5.30" fill="#2a2a2a" stroke="#2a2a2a">80</text>
<line x1="27.60" y1="272.10" x2="30.00" y2="272.10" stroke="#222" stroke-width="0.75"/>
<text x="25.20" y="274.01" text-anchor="end" font-size="5.30" fill="#2a2a2a" stroke="#2a2a2a">100</text>
<line x1="41.30" y1="275.60" x2="41.30" y2="278.22" stroke="#333" stroke-width="0.6"/>
<line x1="41.30" y1="298.04" x2="41.30" y2="315.82" stroke="#333" stroke-width="0.6"/>
<line x1="36.90" y1="275.60" x2="45.70" y2="275.60" stroke="#333" stroke-width="0.6"/>
<line x1="36.90" y1="315.82" x2="45.70" y2="315.82" stroke="#333" stroke-width="0.6"/>
<rect x="35.80" y="278.22" width="11.00" height="19.82" fill="#1c4e8e"/>
<line x1="35.80" y1="286.68" x2="46.80" y2="286.68" stroke="rgba(0,0,0,0.55)" stroke-width="0.5"/>
<circle cx="41.30" cy="276.76" r="0.45" fill="#111"/>
<circle cx="39.30" cy="280.85" r="0.45" fill="#111"/>
<circle cx="43.30" cy="284.93" r="0.45" fill="#111"/>
<circle cx="41.30" cy="289.59" r="0.45" fill="#111"/>
<circle cx="40.30" cy="295.42" r="0.45" fill="#111"/>
<circle cx="42.30" cy="315.24" r="0.45" fill="#111"/>
<line x1="61.30" y1="328.07" x2="61.30" y2="328.18" stroke="#333" stroke-width="0.6"/>
<line x1="61.30" y1="329.12" x2="61.30" y2="329.23" stroke="#333" stroke-width="0.6"/>
<line x1="58.19" y1="328.07" x2="64.41" y2="328.07" stroke="#333" stroke-width="0.6"/>
<line x1="58.19" y1="329.23" x2="64.41" y2="329.23" stroke="#333" stroke-width="0.6"/>
<rect x="57.15" y="328.18" width="8.30" height="0.93" fill="#c8102e"/>
<line x1="57.15" y1="328.65" x2="65.45" y2="328.65" stroke="rgba(0,0,0,0.55)" stroke-width="0.5"/>
<path d="M41.30,273.80 V272.50 H62.30 V273.80" fill="none" stroke="#333" stroke-width="0.65"/>
<text x="51.80" y="272.60" text-anchor="middle" font-size="5.00" fill="#222" stroke="#222">**</text>
<text transform="translate(8.00,301.10) rotate(-90)" x="0" y="2.16" text-anchor="middle" font-size="6.00" fill="#2a2a2a" style="stroke-width:0.26px" textLength="61.60" lengthAdjust="spacingAndGlyphs" stroke="#2a2a2a">% of hCD45<tspan dy="-2.52" font-size="4.20">+</tspan><tspan dy="2.52"> hCD19<tspan dy="-2.52" font-size="4.20">+</tspan><tspan dy="2.52"> (BM)</tspan></tspan></text>
<text x="31.60" y="337.80" font-size="5.90" fill="#303030" font-weight="normal" textLength="15.80" lengthAdjust="spacingAndGlyphs" stroke="#303030">Control</text>
<text x="52.00" y="337.80" font-size="5.90" fill="#303030" font-weight="normal" textLength="23.40" lengthAdjust="spacingAndGlyphs" stroke="#303030">Restriction</text>
<text x="31.90" y="343.80" font-size="5.90" fill="#303030" font-weight="normal" textLength="15.20" lengthAdjust="spacingAndGlyphs" stroke="#303030">(n = 6)</text>
<text x="56.70" y="343.80" font-size="5.90" fill="#303030" font-weight="normal" textLength="14.80" lengthAdjust="spacingAndGlyphs" stroke="#303030">(n = 5)</text>
<text x="113.70" y="256.00" font-size="5.90" fill="#303030" font-weight="normal" textLength="23.00" lengthAdjust="spacingAndGlyphs" stroke="#303030">PDX ALL2</text>
<text x="107.50" y="264.50" font-size="5.90" fill="#303030" font-weight="normal" textLength="35.30" lengthAdjust="spacingAndGlyphs" stroke="#303030">(Non-Ph B-ALL)</text>
<line x1="103.50" y1="270.00" x2="103.50" y2="330.80" stroke="#222" stroke-width="0.85"/>
<line x1="101.10" y1="330.40" x2="146.00" y2="330.40" stroke="#222" stroke-width="0.85"/>
<line x1="101.10" y1="330.40" x2="103.50" y2="330.40" stroke="#222" stroke-width="0.75"/>
<text x="98.70" y="332.31" text-anchor="end" font-size="5.30" fill="#2a2a2a" stroke="#2a2a2a">0</text>
<line x1="101.10" y1="311.10" x2="103.50" y2="311.10" stroke="#222" stroke-width="0.75"/>
<text x="98.70" y="313.01" text-anchor="end" font-size="5.30" fill="#2a2a2a" stroke="#2a2a2a">0.5</text>
<line x1="101.10" y1="291.80" x2="103.50" y2="291.80" stroke="#222" stroke-width="0.75"/>
<text x="98.70" y="293.71" text-anchor="end" font-size="5.30" fill="#2a2a2a" stroke="#2a2a2a">1.0</text>
<line x1="101.10" y1="272.50" x2="103.50" y2="272.50" stroke="#222" stroke-width="0.75"/>
<text x="98.70" y="274.41" text-anchor="end" font-size="5.30" fill="#2a2a2a" stroke="#2a2a2a">1.5</text>
<line x1="114.80" y1="282.15" x2="114.80" y2="291.03" stroke="#333" stroke-width="0.6"/>
<line x1="114.80" y1="324.61" x2="114.80" y2="328.47" stroke="#333" stroke-width="0.6"/>
<line x1="110.12" y1="282.15" x2="119.48" y2="282.15" stroke="#333" stroke-width="0.6"/>
<line x1="110.12" y1="328.47" x2="119.48" y2="328.47" stroke="#333" stroke-width="0.6"/>
<rect x="109.60" y="291.03" width="10.40" height="33.58" fill="#1c4e8e"/>
<line x1="109.60" y1="313.03" x2="120.00" y2="313.03" stroke="rgba(0,0,0,0.55)" stroke-width="0.5"/>
<circle cx="114.80" cy="282.54" r="0.45" fill="#111"/>
<circle cx="112.80" cy="295.66" r="0.45" fill="#111"/>
<circle cx="116.80" cy="307.24" r="0.45" fill="#111"/>
<circle cx="114.80" cy="318.82" r="0.45" fill="#111"/>
<circle cx="113.80" cy="325.77" r="0.45" fill="#111"/>
<line x1="131.50" y1="329.60" x2="139.00" y2="329.60" stroke="#444" stroke-width="0.9"/>
<path d="M113.60,279.70 V278.40 H134.80 V279.70" fill="none" stroke="#333" stroke-width="0.65"/>
<text x="124.20" y="278.20" text-anchor="middle" font-size="5.00" fill="#222" stroke="#222">*</text>
<text transform="translate(85.60,300.00) rotate(-90)" x="0" y="2.16" text-anchor="middle" font-size="6.00" fill="#2a2a2a" style="stroke-width:0.26px" textLength="58.40" lengthAdjust="spacingAndGlyphs" stroke="#2a2a2a">% of hCD45<tspan dy="-2.52" font-size="4.20">+</tspan><tspan dy="2.52"> hCD19<tspan dy="-2.52" font-size="4.20">+</tspan><tspan dy="2.52"> (BM)</tspan></tspan></text>
<text x="104.90" y="337.80" font-size="5.90" fill="#303030" font-weight="normal" textLength="16.20" lengthAdjust="spacingAndGlyphs" stroke="#303030">Control</text>
<text x="125.40" y="337.80" font-size="5.90" fill="#303030" font-weight="normal" textLength="23.40" lengthAdjust="spacingAndGlyphs" stroke="#303030">Restriction</text>
<text x="105.90" y="343.80" font-size="5.90" fill="#303030" font-weight="normal" textLength="14.20" lengthAdjust="spacingAndGlyphs" stroke="#303030">(n = 6)</text>
<text x="129.90" y="343.80" font-size="5.90" fill="#303030" font-weight="normal" textLength="14.70" lengthAdjust="spacingAndGlyphs" stroke="#303030">(n = 4)</text>
<text x="155.20" y="140.50" font-size="11.25" fill="#000" font-weight="bold" textLength="9.80" lengthAdjust="spacingAndGlyphs" stroke="#000">G</text>
<text x="190.70" y="146.50" font-size="5.90" fill="#303030" font-weight="normal" textLength="25.10" lengthAdjust="spacingAndGlyphs" stroke="#303030">PDX AML3</text>
<text x="181.90" y="155.30" font-size="5.90" fill="#303030" font-weight="normal" textLength="43.10" lengthAdjust="spacingAndGlyphs" stroke="#303030">(Normal karyotype)</text>
<line x1="181.00" y1="160.50" x2="181.00" y2="221.90" stroke="#222" stroke-width="0.85"/>
<line x1="178.60" y1="221.50" x2="226.00" y2="221.50" stroke="#222" stroke-width="0.85"/>
<line x1="178.60" y1="221.50" x2="181.00" y2="221.50" stroke="#222" stroke-width="0.75"/>
<text x="176.20" y="223.41" text-anchor="end" font-size="5.30" fill="#2a2a2a" stroke="#2a2a2a">0</text>
<line x1="178.60" y1="209.84" x2="181.00" y2="209.84" stroke="#222" stroke-width="0.75"/>
<text x="176.20" y="211.75" text-anchor="end" font-size="5.30" fill="#2a2a2a" stroke="#2a2a2a">20</text>
<line x1="178.60" y1="198.18" x2="181.00" y2="198.18" stroke="#222" stroke-width="0.75"/>
<text x="176.20" y="200.09" text-anchor="end" font-size="5.30" fill="#2a2a2a" stroke="#2a2a2a">40</text>
<line x1="178.60" y1="186.52" x2="181.00" y2="186.52" stroke="#222" stroke-width="0.75"/>
<text x="176.20" y="188.43" text-anchor="end" font-size="5.30" fill="#2a2a2a" stroke="#2a2a2a">60</text>
<line x1="178.60" y1="174.86" x2="181.00" y2="174.86" stroke="#222" stroke-width="0.75"/>
<text x="176.20" y="176.77" text-anchor="end" font-size="5.30" fill="#2a2a2a" stroke="#2a2a2a">80</text>
<line x1="178.60" y1="163.20" x2="181.00" y2="163.20" stroke="#222" stroke-width="0.75"/>
<text x="176.20" y="165.11" text-anchor="end" font-size="5.30" fill="#2a2a2a" stroke="#2a2a2a">100</text>
<line x1="192.10" y1="170.49" x2="192.10" y2="170.49" stroke="#333" stroke-width="0.6"/>
<line x1="192.10" y1="178.94" x2="192.10" y2="181.86" stroke="#333" stroke-width="0.6"/>
<line x1="188.42" y1="170.49" x2="195.78" y2="170.49" stroke="#333" stroke-width="0.6"/>
<line x1="188.42" y1="181.86" x2="195.78" y2="181.86" stroke="#333" stroke-width="0.6"/>
<rect x="187.20" y="170.49" width="9.80" height="8.45" fill="#1c4e8e"/>
<line x1="187.20" y1="174.86" x2="197.00" y2="174.86" stroke="rgba(0,0,0,0.55)" stroke-width="0.5"/>
<circle cx="192.10" cy="170.78" r="0.45" fill="#111"/>
<circle cx="190.10" cy="172.53" r="0.45" fill="#111"/>
<circle cx="194.10" cy="174.86" r="0.45" fill="#111"/>
<circle cx="192.10" cy="177.19" r="0.45" fill="#111"/>
<circle cx="191.10" cy="181.27" r="0.45" fill="#111"/>
<line x1="213.10" y1="185.94" x2="213.10" y2="195.26" stroke="#333" stroke-width="0.6"/>
<line x1="213.10" y1="219.17" x2="213.10" y2="221.21" stroke="#333" stroke-width="0.6"/>
<line x1="209.18" y1="185.94" x2="217.02" y2="185.94" stroke="#333" stroke-width="0.6"/>
<line x1="209.18" y1="221.21" x2="217.02" y2="221.21" stroke="#333" stroke-width="0.6"/>
<rect x="208.20" y="195.26" width="9.80" height="23.90" fill="#c8102e"/>
<line x1="208.20" y1="205.76" x2="218.00" y2="205.76" stroke="rgba(0,0,0,0.55)" stroke-width="0.5"/>
<circle cx="213.10" cy="186.52" r="0.45" fill="#111"/>
<circle cx="211.10" cy="195.85" r="0.45" fill="#111"/>
<circle cx="215.10" cy="201.09" r="0.45" fill="#111"/>
<circle cx="213.10" cy="206.93" r="0.45" fill="#111"/>
<circle cx="212.10" cy="215.67" r="0.45" fill="#111"/>
<circle cx="214.10" cy="220.33" r="0.45" fill="#111"/>
<path d="M192.10,167.60 V166.30 H213.50 V167.60" fill="none" stroke="#333" stroke-width="0.65"/>
<text x="202.80" y="166.40" text-anchor="middle" font-size="5.00" fill="#222" stroke="#222">**</text>
<text transform="translate(160.60,191.10) rotate(-90)" x="0" y="2.16" text-anchor="middle" font-size="6.00" fill="#2a2a2a" style="stroke-width:0.26px" textLength="62.60" lengthAdjust="spacingAndGlyphs" stroke="#2a2a2a">% of hCD45<tspan dy="-2.52" font-size="4.20">+</tspan><tspan dy="2.52"> hCD33<tspan dy="-2.52" font-size="4.20">+</tspan><tspan dy="2.52"> (BM)</tspan></tspan></text>
<text x="182.40" y="229.50" font-size="5.90" fill="#303030" font-weight="normal" textLength="16.50" lengthAdjust="spacingAndGlyphs" stroke="#303030">Control</text>
<text x="203.20" y="229.50" font-size="5.90" fill="#303030" font-weight="normal" textLength="23.80" lengthAdjust="spacingAndGlyphs" stroke="#303030">Restriction</text>
<text x="183.00" y="235.40" font-size="5.90" fill="#303030" font-weight="normal" textLength="14.80" lengthAdjust="spacingAndGlyphs" stroke="#303030">(n = 6)</text>
<text x="207.20" y="235.40" font-size="5.90" fill="#303030" font-weight="normal" textLength="14.80" lengthAdjust="spacingAndGlyphs" stroke="#303030">(n = 5)</text>
<text x="263.30" y="147.00" font-size="5.90" fill="#303030" font-weight="normal" textLength="25.30" lengthAdjust="spacingAndGlyphs" stroke="#303030">PDX AML4</text>
<text x="253.90" y="155.10" font-size="5.90" fill="#303030" font-weight="normal" textLength="45.90" lengthAdjust="spacingAndGlyphs" stroke="#303030">(Complex karyotype)</text>
<line x1="256.50" y1="160.20" x2="256.50" y2="221.90" stroke="#222" stroke-width="0.85"/>
<line x1="254.10" y1="221.50" x2="305.00" y2="221.50" stroke="#222" stroke-width="0.85"/>
<line x1="254.10" y1="221.50" x2="256.50" y2="221.50" stroke="#222" stroke-width="0.75"/>
<text x="251.70" y="223.41" text-anchor="end" font-size="5.30" fill="#2a2a2a" stroke="#2a2a2a">0</text>
<line x1="254.10" y1="206.78" x2="256.50" y2="206.78" stroke="#222" stroke-width="0.75"/>
<text x="251.70" y="208.68" text-anchor="end" font-size="5.30" fill="#2a2a2a" stroke="#2a2a2a">10</text>
<line x1="254.10" y1="192.05" x2="256.50" y2="192.05" stroke="#222" stroke-width="0.75"/>
<text x="251.70" y="193.96" text-anchor="end" font-size="5.30" fill="#2a2a2a" stroke="#2a2a2a">20</text>
<line x1="254.10" y1="177.32" x2="256.50" y2="177.32" stroke="#222" stroke-width="0.75"/>
<text x="251.70" y="179.23" text-anchor="end" font-size="5.30" fill="#2a2a2a" stroke="#2a2a2a">30</text>
<line x1="254.10" y1="162.60" x2="256.50" y2="162.60" stroke="#222" stroke-width="0.75"/>
<text x="251.70" y="164.51" text-anchor="end" font-size="5.30" fill="#2a2a2a" stroke="#2a2a2a">40</text>
<line x1="266.60" y1="187.04" x2="266.60" y2="191.76" stroke="#333" stroke-width="0.6"/>
<line x1="266.60" y1="202.65" x2="266.60" y2="217.97" stroke="#333" stroke-width="0.6"/>
<line x1="262.84" y1="187.04" x2="270.36" y2="187.04" stroke="#333" stroke-width="0.6"/>
<line x1="262.84" y1="217.97" x2="270.36" y2="217.97" stroke="#333" stroke-width="0.6"/>
<rect x="261.90" y="191.76" width="9.40" height="10.90" fill="#1c4e8e"/>
<line x1="261.90" y1="197.35" x2="271.30" y2="197.35" stroke="rgba(0,0,0,0.55)" stroke-width="0.5"/>
<circle cx="266.60" cy="172.02" r="0.60" fill="#222"/>
<circle cx="266.60" cy="192.05" r="0.45" fill="#111"/>
<circle cx="264.60" cy="195.00" r="0.45" fill="#111"/>
<circle cx="268.60" cy="199.41" r="0.45" fill="#111"/>
<circle cx="266.60" cy="202.36" r="0.45" fill="#111"/>
<circle cx="265.60" cy="217.08" r="0.45" fill="#111"/>
<line x1="287.00" y1="196.91" x2="287.00" y2="208.39" stroke="#333" stroke-width="0.6"/>
<line x1="287.00" y1="220.32" x2="287.00" y2="221.50" stroke="#333" stroke-width="0.6"/>
<line x1="283.20" y1="196.91" x2="290.80" y2="196.91" stroke="#333" stroke-width="0.6"/>
<line x1="283.20" y1="221.50" x2="290.80" y2="221.50" stroke="#333" stroke-width="0.6"/>
<rect x="282.25" y="208.39" width="9.50" height="11.93" fill="#c8102e"/>
<line x1="282.25" y1="214.87" x2="291.75" y2="214.87" stroke="rgba(0,0,0,0.55)" stroke-width="0.5"/>
<circle cx="287.00" cy="181.45" r="0.60" fill="#222"/>
<circle cx="287.00" cy="209.72" r="0.45" fill="#111"/>
<circle cx="285.00" cy="212.66" r="0.45" fill="#111"/>
<circle cx="289.00" cy="215.61" r="0.45" fill="#111"/>
<circle cx="287.00" cy="218.56" r="0.45" fill="#111"/>
<circle cx="286.00" cy="220.03" r="0.45" fill="#111"/>
<path d="M267.20,169.80 V168.50 H288.00 V169.80" fill="none" stroke="#333" stroke-width="0.65"/>
<text x="277.60" y="168.20" text-anchor="middle" font-size="5.00" fill="#222" stroke="#222">*</text>
<text transform="translate(237.40,191.10) rotate(-90)" x="0" y="2.16" text-anchor="middle" font-size="6.00" fill="#2a2a2a" style="stroke-width:0.26px" textLength="62.60" lengthAdjust="spacingAndGlyphs" stroke="#2a2a2a">% of hCD45<tspan dy="-2.52" font-size="4.20">+</tspan><tspan dy="2.52"> hCD33<tspan dy="-2.52" font-size="4.20">+</tspan><tspan dy="2.52"> (BM)</tspan></tspan></text>
<text x="255.60" y="229.50" font-size="5.90" fill="#303030" font-weight="normal" textLength="16.10" lengthAdjust="spacingAndGlyphs" stroke="#303030">Control</text>
<text x="276.40" y="229.50" font-size="5.90" fill="#303030" font-weight="normal" textLength="23.90" lengthAdjust="spacingAndGlyphs" stroke="#303030">Restriction</text>
<text x="254.80" y="235.40" font-size="5.90" fill="#303030" font-weight="normal" textLength="17.60" lengthAdjust="spacingAndGlyphs" stroke="#303030">(n = 11)</text>
<text x="279.20" y="235.40" font-size="5.90" fill="#303030" font-weight="normal" textLength="18.30" lengthAdjust="spacingAndGlyphs" stroke="#303030">(n = 12)</text>
<text x="337.10" y="146.90" font-size="5.90" fill="#303030" font-weight="normal" textLength="25.80" lengthAdjust="spacingAndGlyphs" stroke="#303030">PDX AML5</text>
<text x="325.60" y="155.10" font-size="5.90" fill="#303030" font-weight="normal" textLength="48.20" lengthAdjust="spacingAndGlyphs" stroke="#303030">(Trisomy8, FLT3-ITD<tspan dy="-2.48" font-size="4.13">+</tspan><tspan dy="2.48">)</tspan></text>
<line x1="327.00" y1="160.50" x2="327.00" y2="221.90" stroke="#222" stroke-width="0.85"/>
<line x1="324.60" y1="221.50" x2="378.00" y2="221.50" stroke="#222" stroke-width="0.85"/>
<line x1="324.60" y1="221.50" x2="327.00" y2="221.50" stroke="#222" stroke-width="0.75"/>
<text x="322.20" y="223.41" text-anchor="end" font-size="5.30" fill="#2a2a2a" stroke="#2a2a2a">0</text>
<line x1="324.60" y1="209.82" x2="327.00" y2="209.82" stroke="#222" stroke-width="0.75"/>
<text x="322.20" y="211.73" text-anchor="end" font-size="5.30" fill="#2a2a2a" stroke="#2a2a2a">20</text>
<line x1="324.60" y1="198.14" x2="327.00" y2="198.14" stroke="#222" stroke-width="0.75"/>
<text x="322.20" y="200.05" text-anchor="end" font-size="5.30" fill="#2a2a2a" stroke="#2a2a2a">40</text>
<line x1="324.60" y1="186.46" x2="327.00" y2="186.46" stroke="#222" stroke-width="0.75"/>
<text x="322.20" y="188.37" text-anchor="end" font-size="5.30" fill="#2a2a2a" stroke="#2a2a2a">60</text>
<line x1="324.60" y1="174.78" x2="327.00" y2="174.78" stroke="#222" stroke-width="0.75"/>
<text x="322.20" y="176.69" text-anchor="end" font-size="5.30" fill="#2a2a2a" stroke="#2a2a2a">80</text>
<line x1="324.60" y1="163.10" x2="327.00" y2="163.10" stroke="#222" stroke-width="0.75"/>
<text x="322.20" y="165.01" text-anchor="end" font-size="5.30" fill="#2a2a2a" stroke="#2a2a2a">100</text>
<line x1="339.15" y1="163.80" x2="339.15" y2="166.20" stroke="#333" stroke-width="0.6"/>
<line x1="339.15" y1="171.28" x2="339.15" y2="174.78" stroke="#333" stroke-width="0.6"/>
<line x1="335.59" y1="163.80" x2="342.70" y2="163.80" stroke="#333" stroke-width="0.6"/>
<line x1="335.59" y1="174.78" x2="342.70" y2="174.78" stroke="#333" stroke-width="0.6"/>
<rect x="335.20" y="166.20" width="7.90" height="5.08" fill="#1c4e8e"/>
<line x1="335.20" y1="168.94" x2="343.10" y2="168.94" stroke="rgba(0,0,0,0.55)" stroke-width="0.5"/>
<circle cx="339.15" cy="164.27" r="0.45" fill="#111"/>
<circle cx="337.15" cy="166.60" r="0.45" fill="#111"/>
<circle cx="341.15" cy="168.36" r="0.45" fill="#111"/>
<circle cx="339.15" cy="170.11" r="0.45" fill="#111"/>
<circle cx="338.15" cy="174.20" r="0.45" fill="#111"/>
<line x1="360.30" y1="169.23" x2="360.30" y2="171.86" stroke="#333" stroke-width="0.6"/>
<line x1="360.30" y1="183.25" x2="360.30" y2="189.38" stroke="#333" stroke-width="0.6"/>
<line x1="356.43" y1="169.23" x2="364.17" y2="169.23" stroke="#333" stroke-width="0.6"/>
<line x1="356.43" y1="189.38" x2="364.17" y2="189.38" stroke="#333" stroke-width="0.6"/>
<rect x="356.00" y="171.86" width="8.60" height="11.39" fill="#c8102e"/>
<line x1="356.00" y1="177.70" x2="364.60" y2="177.70" stroke="rgba(0,0,0,0.55)" stroke-width="0.5"/>
<circle cx="360.30" cy="170.11" r="0.45" fill="#111"/>
<circle cx="358.30" cy="173.03" r="0.45" fill="#111"/>
<circle cx="362.30" cy="177.12" r="0.45" fill="#111"/>
<circle cx="360.30" cy="180.62" r="0.45" fill="#111"/>
<circle cx="359.30" cy="188.80" r="0.45" fill="#111"/>
<path d="M337.60,162.70 V161.40 H360.30 V162.70" fill="none" stroke="#333" stroke-width="0.65"/>
<text x="348.95" y="161.30" text-anchor="middle" font-size="5.00" fill="#222" stroke="#222">**</text>
<text transform="translate(308.30,191.30) rotate(-90)" x="0" y="2.16" text-anchor="middle" font-size="6.00" fill="#2a2a2a" style="stroke-width:0.26px" textLength="63.00" lengthAdjust="spacingAndGlyphs" stroke="#2a2a2a">% of hCD45<tspan dy="-2.52" font-size="4.20">+</tspan><tspan dy="2.52"> hCD33<tspan dy="-2.52" font-size="4.20">+</tspan><tspan dy="2.52"> (BM)</tspan></tspan></text>
<text x="329.10" y="229.50" font-size="5.90" fill="#303030" font-weight="normal" textLength="16.10" lengthAdjust="spacingAndGlyphs" stroke="#303030">Control</text>
<text x="349.50" y="229.50" font-size="5.90" fill="#303030" font-weight="normal" textLength="23.70" lengthAdjust="spacingAndGlyphs" stroke="#303030">Restriction</text>
<text x="329.60" y="235.40" font-size="5.90" fill="#303030" font-weight="normal" textLength="14.80" lengthAdjust="spacingAndGlyphs" stroke="#303030">(n = 9)</text>
<text x="354.40" y="235.40" font-size="5.90" fill="#303030" font-weight="normal" textLength="14.80" lengthAdjust="spacingAndGlyphs" stroke="#303030">(n = 8)</text>
<text x="191.30" y="255.50" font-size="5.90" fill="#303030" font-weight="normal" textLength="23.40" lengthAdjust="spacingAndGlyphs" stroke="#303030">PDX ALL3</text>
<text x="185.10" y="263.50" font-size="5.90" fill="#303030" font-weight="normal" textLength="35.40" lengthAdjust="spacingAndGlyphs" stroke="#303030">(B-ALL; non-Ph)</text>
<line x1="181.00" y1="269.00" x2="181.00" y2="330.60" stroke="#222" stroke-width="0.85"/>
<line x1="178.60" y1="330.20" x2="226.00" y2="330.20" stroke="#222" stroke-width="0.85"/>
<line x1="178.60" y1="330.20" x2="181.00" y2="330.20" stroke="#222" stroke-width="0.75"/>
<text x="176.20" y="332.11" text-anchor="end" font-size="5.30" fill="#2a2a2a" stroke="#2a2a2a">0</text>
<line x1="178.60" y1="318.46" x2="181.00" y2="318.46" stroke="#222" stroke-width="0.75"/>
<text x="176.20" y="320.37" text-anchor="end" font-size="5.30" fill="#2a2a2a" stroke="#2a2a2a">20</text>
<line x1="178.60" y1="306.72" x2="181.00" y2="306.72" stroke="#222" stroke-width="0.75"/>
<text x="176.20" y="308.63" text-anchor="end" font-size="5.30" fill="#2a2a2a" stroke="#2a2a2a">40</text>
<line x1="178.60" y1="294.98" x2="181.00" y2="294.98" stroke="#222" stroke-width="0.75"/>
<text x="176.20" y="296.89" text-anchor="end" font-size="5.30" fill="#2a2a2a" stroke="#2a2a2a">60</text>
<line x1="178.60" y1="283.24" x2="181.00" y2="283.24" stroke="#222" stroke-width="0.75"/>
<text x="176.20" y="285.15" text-anchor="end" font-size="5.30" fill="#2a2a2a" stroke="#2a2a2a">80</text>
<line x1="178.60" y1="271.50" x2="181.00" y2="271.50" stroke="#222" stroke-width="0.75"/>
<text x="176.20" y="273.41" text-anchor="end" font-size="5.30" fill="#2a2a2a" stroke="#2a2a2a">100</text>
<line x1="192.40" y1="271.91" x2="192.40" y2="272.03" stroke="#333" stroke-width="0.6"/>
<line x1="192.40" y1="272.97" x2="192.40" y2="273.26" stroke="#333" stroke-width="0.6"/>
<line x1="187.36" y1="271.91" x2="197.44" y2="271.91" stroke="#333" stroke-width="0.6"/>
<line x1="187.36" y1="273.26" x2="197.44" y2="273.26" stroke="#333" stroke-width="0.6"/>
<rect x="186.80" y="272.03" width="11.20" height="0.94" fill="#1b2c4e"/>
<line x1="186.80" y1="272.50" x2="198.00" y2="272.50" stroke="rgba(0,0,0,0.55)" stroke-width="0.5"/>
<rect x="186.80" y="272.32" width="11.20" height="0.60" fill="#111"/>
<line x1="213.30" y1="273.85" x2="213.30" y2="273.97" stroke="#333" stroke-width="0.6"/>
<line x1="213.30" y1="276.02" x2="213.30" y2="276.20" stroke="#333" stroke-width="0.6"/>
<line x1="208.62" y1="273.85" x2="217.98" y2="273.85" stroke="#333" stroke-width="0.6"/>
<line x1="208.62" y1="276.20" x2="217.98" y2="276.20" stroke="#333" stroke-width="0.6"/>
<rect x="208.10" y="273.97" width="10.40" height="2.05" fill="#7a1832"/>
<line x1="208.10" y1="275.02" x2="218.50" y2="275.02" stroke="rgba(0,0,0,0.55)" stroke-width="0.5"/>
<path d="M191.40,271.00 V269.70 H214.20 V271.00" fill="none" stroke="#333" stroke-width="0.65"/>
<text x="202.80" y="269.90" text-anchor="middle" font-size="5.00" fill="#222" stroke="#222">**</text>
<text transform="translate(161.00,300.55) rotate(-90)" x="0" y="2.16" text-anchor="middle" font-size="6.00" fill="#2a2a2a" style="stroke-width:0.26px" textLength="61.50" lengthAdjust="spacingAndGlyphs" stroke="#2a2a2a">% of hCD45<tspan dy="-2.52" font-size="4.20">+</tspan><tspan dy="2.52"> hCD19<tspan dy="-2.52" font-size="4.20">+</tspan><tspan dy="2.52"> (BM)</tspan></tspan></text>
<text x="182.40" y="338.10" font-size="5.90" fill="#303030" font-weight="normal" textLength="16.50" lengthAdjust="spacingAndGlyphs" stroke="#303030">Control</text>
<text x="203.20" y="338.10" font-size="5.90" fill="#303030" font-weight="normal" textLength="24.00" lengthAdjust="spacingAndGlyphs" stroke="#303030">Restriction</text>
<text x="182.80" y="344.10" font-size="5.90" fill="#303030" font-weight="normal" textLength="15.30" lengthAdjust="spacingAndGlyphs" stroke="#303030">(n = 6)</text>
<text x="207.20" y="344.10" font-size="5.90" fill="#303030" font-weight="normal" textLength="15.20" lengthAdjust="spacingAndGlyphs" stroke="#303030">(n = 5)</text>
<text x="264.50" y="255.30" font-size="5.90" fill="#303030" font-weight="normal" textLength="23.20" lengthAdjust="spacingAndGlyphs" stroke="#303030">PDX ALL4</text>
<text x="258.50" y="263.50" font-size="5.90" fill="#303030" font-weight="normal" textLength="35.90" lengthAdjust="spacingAndGlyphs" stroke="#303030">(B-ALL, non-Ph)</text>
<line x1="254.30" y1="269.00" x2="254.30" y2="330.60" stroke="#222" stroke-width="0.85"/>
<line x1="251.90" y1="330.20" x2="300.00" y2="330.20" stroke="#222" stroke-width="0.85"/>
<line x1="251.90" y1="330.20" x2="254.30" y2="330.20" stroke="#222" stroke-width="0.75"/>
<text x="249.50" y="332.11" text-anchor="end" font-size="5.30" fill="#2a2a2a" stroke="#2a2a2a">0</text>
<line x1="251.90" y1="318.46" x2="254.30" y2="318.46" stroke="#222" stroke-width="0.75"/>
<text x="249.50" y="320.37" text-anchor="end" font-size="5.30" fill="#2a2a2a" stroke="#2a2a2a">20</text>
<line x1="251.90" y1="306.72" x2="254.30" y2="306.72" stroke="#222" stroke-width="0.75"/>
<text x="249.50" y="308.63" text-anchor="end" font-size="5.30" fill="#2a2a2a" stroke="#2a2a2a">40</text>
<line x1="251.90" y1="294.98" x2="254.30" y2="294.98" stroke="#222" stroke-width="0.75"/>
<text x="249.50" y="296.89" text-anchor="end" font-size="5.30" fill="#2a2a2a" stroke="#2a2a2a">60</text>
<line x1="251.90" y1="283.24" x2="254.30" y2="283.24" stroke="#222" stroke-width="0.75"/>
<text x="249.50" y="285.15" text-anchor="end" font-size="5.30" fill="#2a2a2a" stroke="#2a2a2a">80</text>
<line x1="251.90" y1="271.50" x2="254.30" y2="271.50" stroke="#222" stroke-width="0.75"/>
<text x="249.50" y="273.41" text-anchor="end" font-size="5.30" fill="#2a2a2a" stroke="#2a2a2a">100</text>
<line x1="266.00" y1="276.20" x2="266.00" y2="276.20" stroke="#333" stroke-width="0.6"/>
<line x1="266.00" y1="279.84" x2="266.00" y2="280.01" stroke="#333" stroke-width="0.6"/>
<line x1="261.68" y1="276.20" x2="270.32" y2="276.20" stroke="#333" stroke-width="0.6"/>
<line x1="261.68" y1="280.01" x2="270.32" y2="280.01" stroke="#333" stroke-width="0.6"/>
<rect x="261.20" y="276.20" width="9.60" height="3.64" fill="#1d3262"/>
<line x1="261.20" y1="277.96" x2="270.80" y2="277.96" stroke="rgba(0,0,0,0.55)" stroke-width="0.5"/>
<circle cx="266.00" cy="286.76" r="0.60" fill="#222"/>
<circle cx="266.00" cy="276.78" r="0.45" fill="#111"/>
<circle cx="264.00" cy="277.96" r="0.45" fill="#111"/>
<circle cx="268.00" cy="278.54" r="0.45" fill="#111"/>
<circle cx="266.00" cy="279.42" r="0.45" fill="#111"/>
<line x1="286.60" y1="275.02" x2="286.60" y2="277.25" stroke="#333" stroke-width="0.6"/>
<line x1="286.60" y1="289.81" x2="286.60" y2="298.21" stroke="#333" stroke-width="0.6"/>
<line x1="282.55" y1="275.02" x2="290.65" y2="275.02" stroke="#333" stroke-width="0.6"/>
<line x1="282.55" y1="298.21" x2="290.65" y2="298.21" stroke="#333" stroke-width="0.6"/>
<rect x="282.10" y="277.25" width="9.00" height="12.56" fill="#c8102e"/>
<line x1="282.10" y1="281.07" x2="291.10" y2="281.07" stroke="rgba(0,0,0,0.55)" stroke-width="0.5"/>
<circle cx="286.60" cy="275.61" r="0.45" fill="#111"/>
<circle cx="284.60" cy="278.54" r="0.45" fill="#111"/>
<circle cx="288.60" cy="280.89" r="0.45" fill="#111"/>
<circle cx="286.60" cy="286.18" r="0.45" fill="#111"/>
<circle cx="285.60" cy="289.11" r="0.45" fill="#111"/>
<path d="M265.10,273.10 V271.80 H287.10 V273.10" fill="none" stroke="#333" stroke-width="0.65"/>
<text x="264.20" y="315.10" font-size="5.90" fill="#303030" font-weight="normal" textLength="19.90" lengthAdjust="spacingAndGlyphs" stroke="#303030">P = 0.20</text>
<circle cx="288.40" cy="313.00" r="0.55" fill="#222"/>
<text transform="translate(235.60,300.25) rotate(-90)" x="0" y="2.16" text-anchor="middle" font-size="6.00" fill="#2a2a2a" style="stroke-width:0.26px" textLength="60.90" lengthAdjust="spacingAndGlyphs" stroke="#2a2a2a">% of hCD45<tspan dy="-2.52" font-size="4.20">+</tspan><tspan dy="2.52"> hCD19<tspan dy="-2.52" font-size="4.20">+</tspan><tspan dy="2.52"> (BM)</tspan></tspan></text>
<text x="255.60" y="338.10" font-size="5.90" fill="#303030" font-weight="normal" textLength="16.10" lengthAdjust="spacingAndGlyphs" stroke="#303030">Control</text>
<text x="276.40" y="338.10" font-size="5.90" fill="#303030" font-weight="normal" textLength="23.90" lengthAdjust="spacingAndGlyphs" stroke="#303030">Restriction</text>
<text x="256.70" y="344.10" font-size="5.90" fill="#303030" font-weight="normal" textLength="14.40" lengthAdjust="spacingAndGlyphs" stroke="#303030">(n = 9)</text>
<text x="279.20" y="344.10" font-size="5.90" fill="#303030" font-weight="normal" textLength="18.30" lengthAdjust="spacingAndGlyphs" stroke="#303030">(n = 10)</text>
<text x="337.90" y="255.50" font-size="5.90" fill="#303030" font-weight="normal" textLength="23.50" lengthAdjust="spacingAndGlyphs" stroke="#303030">PDX ALL5</text>
<text x="342.10" y="263.50" font-size="5.90" fill="#303030" font-weight="normal" textLength="15.30" lengthAdjust="spacingAndGlyphs" stroke="#303030">(T-ALL)</text>
<line x1="328.50" y1="268.50" x2="328.50" y2="330.60" stroke="#222" stroke-width="0.85"/>
<line x1="326.10" y1="330.20" x2="378.00" y2="330.20" stroke="#222" stroke-width="0.85"/>
<line x1="326.10" y1="330.20" x2="328.50" y2="330.20" stroke="#222" stroke-width="0.75"/>
<text x="323.70" y="332.11" text-anchor="end" font-size="5.30" fill="#2a2a2a" stroke="#2a2a2a">0</text>
<line x1="326.10" y1="300.60" x2="328.50" y2="300.60" stroke="#222" stroke-width="0.75"/>
<text x="323.70" y="302.51" text-anchor="end" font-size="5.30" fill="#2a2a2a" stroke="#2a2a2a">10</text>
<line x1="326.10" y1="271.00" x2="328.50" y2="271.00" stroke="#222" stroke-width="0.75"/>
<text x="323.70" y="272.91" text-anchor="end" font-size="5.30" fill="#2a2a2a" stroke="#2a2a2a">20</text>
<line x1="339.40" y1="283.43" x2="339.40" y2="285.21" stroke="#333" stroke-width="0.6"/>
<line x1="339.40" y1="309.78" x2="339.40" y2="317.77" stroke="#333" stroke-width="0.6"/>
<line x1="335.24" y1="283.43" x2="343.56" y2="283.43" stroke="#333" stroke-width="0.6"/>
<line x1="335.24" y1="317.77" x2="343.56" y2="317.77" stroke="#333" stroke-width="0.6"/>
<rect x="334.20" y="285.21" width="10.40" height="24.57" fill="#1c4e8e"/>
<line x1="334.20" y1="297.05" x2="344.60" y2="297.05" stroke="rgba(0,0,0,0.55)" stroke-width="0.5"/>
<circle cx="339.40" cy="284.32" r="0.45" fill="#111"/>
<circle cx="337.40" cy="288.76" r="0.45" fill="#111"/>
<circle cx="341.40" cy="297.64" r="0.45" fill="#111"/>
<circle cx="339.40" cy="306.52" r="0.45" fill="#111"/>
<circle cx="338.40" cy="316.88" r="0.45" fill="#111"/>
<line x1="359.80" y1="306.22" x2="359.80" y2="314.51" stroke="#333" stroke-width="0.6"/>
<line x1="359.80" y1="325.46" x2="359.80" y2="329.61" stroke="#333" stroke-width="0.6"/>
<line x1="355.96" y1="306.22" x2="363.64" y2="306.22" stroke="#333" stroke-width="0.6"/>
<line x1="355.96" y1="329.61" x2="363.64" y2="329.61" stroke="#333" stroke-width="0.6"/>
<rect x="355.00" y="314.51" width="9.60" height="10.95" fill="#c8102e"/>
<line x1="355.00" y1="321.62" x2="364.60" y2="321.62" stroke="rgba(0,0,0,0.55)" stroke-width="0.5"/>
<circle cx="359.80" cy="306.52" r="0.45" fill="#111"/>
<circle cx="357.80" cy="315.40" r="0.45" fill="#111"/>
<circle cx="361.80" cy="321.32" r="0.45" fill="#111"/>
<circle cx="359.80" cy="324.28" r="0.45" fill="#111"/>
<circle cx="358.80" cy="328.72" r="0.45" fill="#111"/>
<path d="M338.10,279.50 V278.20 H358.80 V279.50" fill="none" stroke="#333" stroke-width="0.65"/>
<text x="348.45" y="277.80" text-anchor="middle" font-size="5.00" fill="#222" stroke="#222">*</text>
<text transform="translate(309.70,300.00) rotate(-90)" x="0" y="2.16" text-anchor="middle" font-size="6.00" fill="#2a2a2a" style="stroke-width:0.26px" textLength="58.40" lengthAdjust="spacingAndGlyphs" stroke="#2a2a2a">% of hCD45<tspan dy="-2.52" font-size="4.20">+</tspan><tspan dy="2.52"> hCD7<tspan dy="-2.52" font-size="4.20">+</tspan><tspan dy="2.52"> (BM)</tspan></tspan></text>
<text x="329.10" y="338.10" font-size="5.90" fill="#303030" font-weight="normal" textLength="16.10" lengthAdjust="spacingAndGlyphs" stroke="#303030">Control</text>
<text x="348.90" y="338.10" font-size="5.90" fill="#303030" font-weight="normal" textLength="23.80" lengthAdjust="spacingAndGlyphs" stroke="#303030">Restriction</text>
<text x="329.60" y="344.10" font-size="5.90" fill="#303030" font-weight="normal" textLength="14.30" lengthAdjust="spacingAndGlyphs" stroke="#303030">(n = 5)</text>
<text x="353.40" y="344.10" font-size="5.90" fill="#303030" font-weight="normal" textLength="14.20" lengthAdjust="spacingAndGlyphs" stroke="#303030">(n = 5)</text>
<text x="382.90" y="141.10" font-size="12.36" fill="#000" font-weight="bold" textLength="8.00" lengthAdjust="spacingAndGlyphs" stroke="#000">H</text>
<text x="431.20" y="140.40" font-size="5.90" fill="#303030" font-weight="normal" textLength="68.80" lengthAdjust="spacingAndGlyphs" stroke="#303030">PDX AML3(Normal karyotype)</text>
<line x1="413.80" y1="145.30" x2="517.50" y2="145.30" stroke="#222" stroke-width="0.95"/>
<text x="418.70" y="153.20" font-size="5.90" fill="#303030" font-weight="normal" textLength="14.50" lengthAdjust="spacingAndGlyphs" stroke="#303030">Day10</text>
<text x="458.20" y="153.20" font-size="5.90" fill="#303030" font-weight="normal" textLength="15.00" lengthAdjust="spacingAndGlyphs" stroke="#303030">Day30</text>
<text x="500.40" y="152.90" font-size="5.90" fill="#303030" font-weight="normal" textLength="14.10" lengthAdjust="spacingAndGlyphs" stroke="#303030">Day50</text>
<line x1="412.60" y1="158.00" x2="412.60" y2="204.90" stroke="#222" stroke-width="0.85"/>
<line x1="410.20" y1="204.50" x2="437.10" y2="204.50" stroke="#222" stroke-width="0.85"/>
<line x1="410.20" y1="204.50" x2="412.60" y2="204.50" stroke="#222" stroke-width="0.75"/>
<text transform="translate(405.49,204.50) rotate(-90)" x="0" y="1.91" text-anchor="middle" font-size="5.30" fill="#2a2a2a" stroke="#2a2a2a">0</text>
<line x1="410.20" y1="189.73" x2="412.60" y2="189.73" stroke="#222" stroke-width="0.75"/>
<text transform="translate(405.49,189.73) rotate(-90)" x="0" y="1.91" text-anchor="middle" font-size="5.30" fill="#2a2a2a" stroke="#2a2a2a">10</text>
<line x1="410.20" y1="174.97" x2="412.60" y2="174.97" stroke="#222" stroke-width="0.75"/>
<text transform="translate(405.49,174.97) rotate(-90)" x="0" y="1.91" text-anchor="middle" font-size="5.30" fill="#2a2a2a" stroke="#2a2a2a">20</text>
<line x1="410.20" y1="160.20" x2="412.60" y2="160.20" stroke="#222" stroke-width="0.75"/>
<text transform="translate(405.49,160.20) rotate(-90)" x="0" y="1.91" text-anchor="middle" font-size="5.30" fill="#2a2a2a" stroke="#2a2a2a">30</text>
<line x1="419.60" y1="170.24" x2="419.60" y2="166.84" stroke="#111" stroke-width="0.6"/>
<line x1="418.00" y1="166.84" x2="421.20" y2="166.84" stroke="#111" stroke-width="0.6"/>
<rect x="416.20" y="170.24" width="6.80" height="34.26" fill="#1c4e8e"/>
<circle cx="419.60" cy="163.89" r="0.50" fill="#222"/>
<line x1="429.80" y1="178.95" x2="429.80" y2="172.60" stroke="#111" stroke-width="0.6"/>
<line x1="428.20" y1="172.60" x2="431.40" y2="172.60" stroke="#111" stroke-width="0.6"/>
<rect x="426.40" y="178.95" width="6.80" height="25.55" fill="#c8102e"/>
<circle cx="429.80" cy="165.37" r="0.50" fill="#222"/>
<line x1="419.60" y1="204.50" x2="419.60" y2="206.50" stroke="#222" stroke-width="0.7"/>
<line x1="429.80" y1="204.50" x2="429.80" y2="206.50" stroke="#222" stroke-width="0.7"/>
<line x1="453.90" y1="158.00" x2="453.90" y2="204.90" stroke="#222" stroke-width="0.85"/>
<line x1="451.50" y1="204.50" x2="478.40" y2="204.50" stroke="#222" stroke-width="0.85"/>
<line x1="451.50" y1="204.50" x2="453.90" y2="204.50" stroke="#222" stroke-width="0.75"/>
<text x="449.10" y="206.41" text-anchor="end" font-size="5.30" fill="#2a2a2a" stroke="#2a2a2a">0</text>
<line x1="451.50" y1="189.73" x2="453.90" y2="189.73" stroke="#222" stroke-width="0.75"/>
<text x="449.10" y="191.64" text-anchor="end" font-size="5.30" fill="#2a2a2a" stroke="#2a2a2a">10</text>
<line x1="451.50" y1="174.97" x2="453.90" y2="174.97" stroke="#222" stroke-width="0.75"/>
<text x="449.10" y="176.87" text-anchor="end" font-size="5.30" fill="#2a2a2a" stroke="#2a2a2a">20</text>
<line x1="451.50" y1="160.20" x2="453.90" y2="160.20" stroke="#222" stroke-width="0.75"/>
<text x="449.10" y="162.11" text-anchor="end" font-size="5.30" fill="#2a2a2a" stroke="#2a2a2a">30</text>
<line x1="460.90" y1="174.52" x2="460.90" y2="171.27" stroke="#111" stroke-width="0.6"/>
<line x1="459.30" y1="171.27" x2="462.50" y2="171.27" stroke="#111" stroke-width="0.6"/>
<rect x="457.50" y="174.52" width="6.80" height="29.98" fill="#1c4e8e"/>
<circle cx="460.90" cy="166.11" r="0.50" fill="#222"/>
<circle cx="460.90" cy="168.32" r="0.50" fill="#222"/>
<line x1="471.10" y1="179.40" x2="471.10" y2="174.97" stroke="#111" stroke-width="0.6"/>
<line x1="469.50" y1="174.97" x2="472.70" y2="174.97" stroke="#111" stroke-width="0.6"/>
<rect x="467.70" y="179.40" width="6.80" height="25.10" fill="#c8102e"/>
<circle cx="471.10" cy="169.06" r="0.50" fill="#222"/>
<line x1="460.90" y1="204.50" x2="460.90" y2="206.50" stroke="#222" stroke-width="0.7"/>
<line x1="471.10" y1="204.50" x2="471.10" y2="206.50" stroke="#222" stroke-width="0.7"/>
<line x1="495.20" y1="158.00" x2="495.20" y2="204.90" stroke="#222" stroke-width="0.85"/>
<line x1="492.80" y1="204.50" x2="519.70" y2="204.50" stroke="#222" stroke-width="0.85"/>
<line x1="492.80" y1="204.50" x2="495.20" y2="204.50" stroke="#222" stroke-width="0.75"/>
<text x="490.40" y="206.41" text-anchor="end" font-size="5.30" fill="#2a2a2a" stroke="#2a2a2a">0</text>
<line x1="492.80" y1="189.73" x2="495.20" y2="189.73" stroke="#222" stroke-width="0.75"/>
<text x="490.40" y="191.64" text-anchor="end" font-size="5.30" fill="#2a2a2a" stroke="#2a2a2a">10</text>
<line x1="492.80" y1="174.97" x2="495.20" y2="174.97" stroke="#222" stroke-width="0.75"/>
<text x="490.40" y="176.87" text-anchor="end" font-size="5.30" fill="#2a2a2a" stroke="#2a2a2a">20</text>
<line x1="492.80" y1="160.20" x2="495.20" y2="160.20" stroke="#222" stroke-width="0.75"/>
<text x="490.40" y="162.11" text-anchor="end" font-size="5.30" fill="#2a2a2a" stroke="#2a2a2a">30</text>
<line x1="502.20" y1="176.89" x2="502.20" y2="172.60" stroke="#111" stroke-width="0.6"/>
<line x1="500.60" y1="172.60" x2="503.80" y2="172.60" stroke="#111" stroke-width="0.6"/>
<rect x="498.80" y="176.89" width="6.80" height="27.61" fill="#1c4e8e"/>
<circle cx="502.20" cy="164.63" r="0.50" fill="#222"/>
<circle cx="502.20" cy="167.58" r="0.50" fill="#222"/>
<line x1="512.40" y1="190.77" x2="512.40" y2="183.53" stroke="#111" stroke-width="0.6"/>
<line x1="510.80" y1="183.53" x2="514.00" y2="183.53" stroke="#111" stroke-width="0.6"/>
<rect x="509.00" y="190.77" width="6.80" height="13.73" fill="#c8102e"/>
<circle cx="512.40" cy="181.61" r="0.50" fill="#222"/>
<circle cx="512.40" cy="186.78" r="0.50" fill="#222"/>
<line x1="502.20" y1="204.50" x2="502.20" y2="206.50" stroke="#222" stroke-width="0.7"/>
<line x1="512.40" y1="204.50" x2="512.40" y2="206.50" stroke="#222" stroke-width="0.7"/>
<text transform="translate(387.00,179.75) rotate(-90)" x="0" y="2.34" text-anchor="middle" font-size="6.50" fill="#2a2a2a" style="stroke-width:0.26px" textLength="57.70" lengthAdjust="spacingAndGlyphs" stroke="#2a2a2a">% of hCD45<tspan dy="-2.73" font-size="4.55">+</tspan><tspan dy="2.73"> hCD34<tspan dy="-2.73" font-size="4.55">+</tspan><tspan dy="2.73"> AML</tspan></tspan></text>
<text transform="translate(397.00,181.15) rotate(-90)" x="0" y="2.34" text-anchor="middle" font-size="6.50" fill="#2a2a2a" style="stroke-width:0.26px" textLength="42.50" lengthAdjust="spacingAndGlyphs" stroke="#2a2a2a">cells / hCD45<tspan dy="-2.73" font-size="4.55">+</tspan><tspan dy="2.73"> cells</tspan></text>
<text x="428.50" y="221.40" font-size="5.90" fill="#303030" font-weight="normal" textLength="73.50" lengthAdjust="spacingAndGlyphs" stroke="#303030">PDX AML4 (Complex karyotype)</text>
<line x1="414.20" y1="226.60" x2="519.00" y2="226.60" stroke="#222" stroke-width="0.95"/>
<text x="421.30" y="233.00" font-size="5.90" fill="#303030" font-weight="normal" textLength="14.10" lengthAdjust="spacingAndGlyphs" stroke="#303030">Day10</text>
<text x="456.60" y="233.00" font-size="5.90" fill="#303030" font-weight="normal" textLength="14.20" lengthAdjust="spacingAndGlyphs" stroke="#303030">Day30</text>
<text x="498.60" y="233.00" font-size="5.90" fill="#303030" font-weight="normal" textLength="14.20" lengthAdjust="spacingAndGlyphs" stroke="#303030">Day50</text>
<line x1="412.60" y1="242.20" x2="412.60" y2="289.30" stroke="#222" stroke-width="0.85"/>
<line x1="410.20" y1="288.90" x2="437.10" y2="288.90" stroke="#222" stroke-width="0.85"/>
<line x1="410.20" y1="288.90" x2="412.60" y2="288.90" stroke="#222" stroke-width="0.75"/>
<text x="407.80" y="290.81" text-anchor="end" font-size="5.30" fill="#2a2a2a" stroke="#2a2a2a">0</text>
<line x1="410.20" y1="280.00" x2="412.60" y2="280.00" stroke="#222" stroke-width="0.75"/>
<text x="407.80" y="281.91" text-anchor="end" font-size="5.30" fill="#2a2a2a" stroke="#2a2a2a">20</text>
<line x1="410.20" y1="271.10" x2="412.60" y2="271.10" stroke="#222" stroke-width="0.75"/>
<text x="407.80" y="273.01" text-anchor="end" font-size="5.30" fill="#2a2a2a" stroke="#2a2a2a">40</text>
<line x1="410.20" y1="262.20" x2="412.60" y2="262.20" stroke="#222" stroke-width="0.75"/>
<text x="407.80" y="264.11" text-anchor="end" font-size="5.30" fill="#2a2a2a" stroke="#2a2a2a">60</text>
<line x1="410.20" y1="253.30" x2="412.60" y2="253.30" stroke="#222" stroke-width="0.75"/>
<text x="407.80" y="255.21" text-anchor="end" font-size="5.30" fill="#2a2a2a" stroke="#2a2a2a">80</text>
<line x1="410.20" y1="244.40" x2="412.60" y2="244.40" stroke="#222" stroke-width="0.75"/>
<text x="407.80" y="246.31" text-anchor="end" font-size="5.30" fill="#2a2a2a" stroke="#2a2a2a">100</text>
<line x1="419.60" y1="253.30" x2="419.60" y2="251.97" stroke="#111" stroke-width="0.6"/>
<line x1="418.00" y1="251.97" x2="421.20" y2="251.97" stroke="#111" stroke-width="0.6"/>
<rect x="416.20" y="253.30" width="6.80" height="35.60" fill="#1c4e8e"/>
<circle cx="418.10" cy="250.63" r="0.50" fill="#222"/>
<circle cx="421.10" cy="250.63" r="0.50" fill="#222"/>
<circle cx="419.60" cy="245.74" r="0.50" fill="#222"/>
<line x1="429.80" y1="253.97" x2="429.80" y2="251.97" stroke="#111" stroke-width="0.6"/>
<line x1="428.20" y1="251.97" x2="431.40" y2="251.97" stroke="#111" stroke-width="0.6"/>
<rect x="426.40" y="253.97" width="6.80" height="34.93" fill="#c8102e"/>
<circle cx="429.80" cy="249.74" r="0.50" fill="#222"/>
<circle cx="427.80" cy="245.74" r="0.50" fill="#222"/>
<circle cx="429.80" cy="245.74" r="0.50" fill="#222"/>
<circle cx="431.80" cy="245.74" r="0.50" fill="#222"/>
<line x1="419.60" y1="288.90" x2="419.60" y2="290.90" stroke="#222" stroke-width="0.7"/>
<line x1="429.80" y1="288.90" x2="429.80" y2="290.90" stroke="#222" stroke-width="0.7"/>
<line x1="453.90" y1="242.20" x2="453.90" y2="289.30" stroke="#222" stroke-width="0.85"/>
<line x1="451.50" y1="288.90" x2="478.40" y2="288.90" stroke="#222" stroke-width="0.85"/>
<line x1="451.50" y1="288.90" x2="453.90" y2="288.90" stroke="#222" stroke-width="0.75"/>
<text x="449.10" y="290.81" text-anchor="end" font-size="5.30" fill="#2a2a2a" stroke="#2a2a2a">0</text>
<line x1="451.50" y1="280.00" x2="453.90" y2="280.00" stroke="#222" stroke-width="0.75"/>
<text x="449.10" y="281.91" text-anchor="end" font-size="5.30" fill="#2a2a2a" stroke="#2a2a2a">20</text>
<line x1="451.50" y1="271.10" x2="453.90" y2="271.10" stroke="#222" stroke-width="0.75"/>
<text x="449.10" y="273.01" text-anchor="end" font-size="5.30" fill="#2a2a2a" stroke="#2a2a2a">40</text>
<line x1="451.50" y1="262.20" x2="453.90" y2="262.20" stroke="#222" stroke-width="0.75"/>
<text x="449.10" y="264.11" text-anchor="end" font-size="5.30" fill="#2a2a2a" stroke="#2a2a2a">60</text>
<line x1="451.50" y1="253.30" x2="453.90" y2="253.30" stroke="#222" stroke-width="0.75"/>
<text x="449.10" y="255.21" text-anchor="end" font-size="5.30" fill="#2a2a2a" stroke="#2a2a2a">80</text>
<line x1="451.50" y1="244.40" x2="453.90" y2="244.40" stroke="#222" stroke-width="0.75"/>
<text x="449.10" y="246.31" text-anchor="end" font-size="5.30" fill="#2a2a2a" stroke="#2a2a2a">100</text>
<line x1="460.90" y1="250.41" x2="460.90" y2="249.30" stroke="#111" stroke-width="0.6"/>
<line x1="459.30" y1="249.30" x2="462.50" y2="249.30" stroke="#111" stroke-width="0.6"/>
<rect x="457.50" y="250.41" width="6.80" height="38.49" fill="#1c4e8e"/>
<circle cx="459.40" cy="248.41" r="0.50" fill="#222"/>
<circle cx="461.90" cy="247.52" r="0.50" fill="#222"/>
<circle cx="460.90" cy="246.62" r="0.50" fill="#222"/>
<line x1="471.10" y1="260.87" x2="471.10" y2="259.08" stroke="#111" stroke-width="0.6"/>
<line x1="469.50" y1="259.08" x2="472.70" y2="259.08" stroke="#111" stroke-width="0.6"/>
<rect x="467.70" y="260.87" width="6.80" height="28.03" fill="#c8102e"/>
<circle cx="471.10" cy="256.86" r="0.50" fill="#222"/>
<circle cx="470.10" cy="257.75" r="0.50" fill="#222"/>
<line x1="460.90" y1="288.90" x2="460.90" y2="290.90" stroke="#222" stroke-width="0.7"/>
<line x1="471.10" y1="288.90" x2="471.10" y2="290.90" stroke="#222" stroke-width="0.7"/>
<line x1="495.20" y1="242.20" x2="495.20" y2="289.30" stroke="#222" stroke-width="0.85"/>
<line x1="492.80" y1="288.90" x2="519.70" y2="288.90" stroke="#222" stroke-width="0.85"/>
<line x1="492.80" y1="288.90" x2="495.20" y2="288.90" stroke="#222" stroke-width="0.75"/>
<text x="490.40" y="290.81" text-anchor="end" font-size="5.30" fill="#2a2a2a" stroke="#2a2a2a">0</text>
<line x1="492.80" y1="280.00" x2="495.20" y2="280.00" stroke="#222" stroke-width="0.75"/>
<text x="490.40" y="281.91" text-anchor="end" font-size="5.30" fill="#2a2a2a" stroke="#2a2a2a">20</text>
<line x1="492.80" y1="271.10" x2="495.20" y2="271.10" stroke="#222" stroke-width="0.75"/>
<text x="490.40" y="273.01" text-anchor="end" font-size="5.30" fill="#2a2a2a" stroke="#2a2a2a">40</text>
<line x1="492.80" y1="262.20" x2="495.20" y2="262.20" stroke="#222" stroke-width="0.75"/>
<text x="490.40" y="264.11" text-anchor="end" font-size="5.30" fill="#2a2a2a" stroke="#2a2a2a">60</text>
<line x1="492.80" y1="253.30" x2="495.20" y2="253.30" stroke="#222" stroke-width="0.75"/>
<text x="490.40" y="255.21" text-anchor="end" font-size="5.30" fill="#2a2a2a" stroke="#2a2a2a">80</text>
<line x1="492.80" y1="244.40" x2="495.20" y2="244.40" stroke="#222" stroke-width="0.75"/>
<text x="490.40" y="246.31" text-anchor="end" font-size="5.30" fill="#2a2a2a" stroke="#2a2a2a">100</text>
<line x1="502.20" y1="251.74" x2="502.20" y2="250.63" stroke="#111" stroke-width="0.6"/>
<line x1="500.60" y1="250.63" x2="503.80" y2="250.63" stroke="#111" stroke-width="0.6"/>
<rect x="498.80" y="251.74" width="6.80" height="37.16" fill="#1c4e8e"/>
<circle cx="501.20" cy="250.19" r="0.50" fill="#222"/>
<circle cx="503.70" cy="249.30" r="0.50" fill="#222"/>
<circle cx="502.20" cy="250.63" r="0.50" fill="#222"/>
<line x1="512.40" y1="260.20" x2="512.40" y2="258.64" stroke="#111" stroke-width="0.6"/>
<line x1="510.80" y1="258.64" x2="514.00" y2="258.64" stroke="#111" stroke-width="0.6"/>
<rect x="509.00" y="260.20" width="6.80" height="28.70" fill="#c8102e"/>
<circle cx="512.40" cy="247.96" r="0.50" fill="#222"/>
<circle cx="512.40" cy="255.53" r="0.50" fill="#222"/>
<circle cx="511.40" cy="257.75" r="0.50" fill="#222"/>
<line x1="502.20" y1="288.90" x2="502.20" y2="290.90" stroke="#222" stroke-width="0.7"/>
<line x1="512.40" y1="288.90" x2="512.40" y2="290.90" stroke="#222" stroke-width="0.7"/>
<text transform="translate(385.50,265.40) rotate(-90)" x="0" y="2.34" text-anchor="middle" font-size="6.50" fill="#2a2a2a" style="stroke-width:0.26px" textLength="59.40" lengthAdjust="spacingAndGlyphs" stroke="#2a2a2a">% of hCD45<tspan dy="-2.73" font-size="4.55">+</tspan><tspan dy="2.73"> hCD34<tspan dy="-2.73" font-size="4.55">+</tspan><tspan dy="2.73"> AML</tspan></tspan></text>
<text transform="translate(393.20,264.75) rotate(-90)" x="0" y="2.34" text-anchor="middle" font-size="6.50" fill="#2a2a2a" style="stroke-width:0.26px" textLength="45.70" lengthAdjust="spacingAndGlyphs" stroke="#2a2a2a">cells / hCD45<tspan dy="-2.73" font-size="4.55">+</tspan><tspan dy="2.73"> cells</tspan></text>
<text x="428.50" y="304.80" font-size="5.90" fill="#303030" font-weight="normal" textLength="75.60" lengthAdjust="spacingAndGlyphs" stroke="#303030">PDX AML5 (Trisomy8, FLT3-ITD<tspan dy="-2.48" font-size="4.13">+</tspan><tspan dy="2.48">)</tspan></text>
<line x1="414.20" y1="309.60" x2="519.00" y2="309.60" stroke="#222" stroke-width="0.95"/>
<text x="420.20" y="317.00" font-size="5.90" fill="#303030" font-weight="normal" textLength="14.40" lengthAdjust="spacingAndGlyphs" stroke="#303030">Day10</text>
<text x="458.90" y="317.00" font-size="5.90" fill="#303030" font-weight="normal" textLength="15.00" lengthAdjust="spacingAndGlyphs" stroke="#303030">Day30</text>
<text x="498.60" y="317.00" font-size="5.90" fill="#303030" font-weight="normal" textLength="14.80" lengthAdjust="spacingAndGlyphs" stroke="#303030">Day50</text>
<line x1="412.60" y1="321.90" x2="412.60" y2="369.30" stroke="#222" stroke-width="0.85"/>
<line x1="410.20" y1="368.90" x2="437.10" y2="368.90" stroke="#222" stroke-width="0.85"/>
<line x1="410.20" y1="368.90" x2="412.60" y2="368.90" stroke="#222" stroke-width="0.75"/>
<text x="407.80" y="370.81" text-anchor="end" font-size="5.30" fill="#2a2a2a" stroke="#2a2a2a">0</text>
<line x1="410.20" y1="359.94" x2="412.60" y2="359.94" stroke="#222" stroke-width="0.75"/>
<text x="407.80" y="361.85" text-anchor="end" font-size="5.30" fill="#2a2a2a" stroke="#2a2a2a">20</text>
<line x1="410.20" y1="350.98" x2="412.60" y2="350.98" stroke="#222" stroke-width="0.75"/>
<text x="407.80" y="352.89" text-anchor="end" font-size="5.30" fill="#2a2a2a" stroke="#2a2a2a">40</text>
<line x1="410.20" y1="342.02" x2="412.60" y2="342.02" stroke="#222" stroke-width="0.75"/>
<text x="407.80" y="343.93" text-anchor="end" font-size="5.30" fill="#2a2a2a" stroke="#2a2a2a">60</text>
<line x1="410.20" y1="333.06" x2="412.60" y2="333.06" stroke="#222" stroke-width="0.75"/>
<text x="407.80" y="334.97" text-anchor="end" font-size="5.30" fill="#2a2a2a" stroke="#2a2a2a">80</text>
<line x1="410.20" y1="324.10" x2="412.60" y2="324.10" stroke="#222" stroke-width="0.75"/>
<text x="407.80" y="326.01" text-anchor="end" font-size="5.30" fill="#2a2a2a" stroke="#2a2a2a">100</text>
<line x1="419.60" y1="331.27" x2="419.60" y2="330.37" stroke="#111" stroke-width="0.6"/>
<line x1="418.00" y1="330.37" x2="421.20" y2="330.37" stroke="#111" stroke-width="0.6"/>
<rect x="416.20" y="331.27" width="6.80" height="37.63" fill="#1c4e8e"/>
<circle cx="418.10" cy="330.37" r="0.50" fill="#222"/>
<circle cx="419.60" cy="327.68" r="0.50" fill="#222"/>
<line x1="429.80" y1="333.96" x2="429.80" y2="333.06" stroke="#111" stroke-width="0.6"/>
<line x1="428.20" y1="333.06" x2="431.40" y2="333.06" stroke="#111" stroke-width="0.6"/>
<rect x="426.40" y="333.96" width="6.80" height="34.94" fill="#c8102e"/>
<circle cx="428.30" cy="332.16" r="0.50" fill="#222"/>
<circle cx="431.30" cy="329.48" r="0.50" fill="#222"/>
<circle cx="429.80" cy="329.48" r="0.50" fill="#222"/>
<line x1="419.60" y1="368.90" x2="419.60" y2="370.90" stroke="#222" stroke-width="0.7"/>
<line x1="429.80" y1="368.90" x2="429.80" y2="370.90" stroke="#222" stroke-width="0.7"/>
<line x1="453.90" y1="321.90" x2="453.90" y2="369.30" stroke="#222" stroke-width="0.85"/>
<line x1="451.50" y1="368.90" x2="478.40" y2="368.90" stroke="#222" stroke-width="0.85"/>
<line x1="451.50" y1="368.90" x2="453.90" y2="368.90" stroke="#222" stroke-width="0.75"/>
<text x="449.10" y="370.81" text-anchor="end" font-size="5.30" fill="#2a2a2a" stroke="#2a2a2a">0</text>
<line x1="451.50" y1="359.94" x2="453.90" y2="359.94" stroke="#222" stroke-width="0.75"/>
<text x="449.10" y="361.85" text-anchor="end" font-size="5.30" fill="#2a2a2a" stroke="#2a2a2a">20</text>
<line x1="451.50" y1="350.98" x2="453.90" y2="350.98" stroke="#222" stroke-width="0.75"/>
<text x="449.10" y="352.89" text-anchor="end" font-size="5.30" fill="#2a2a2a" stroke="#2a2a2a">40</text>
<line x1="451.50" y1="342.02" x2="453.90" y2="342.02" stroke="#222" stroke-width="0.75"/>
<text x="449.10" y="343.93" text-anchor="end" font-size="5.30" fill="#2a2a2a" stroke="#2a2a2a">60</text>
<line x1="451.50" y1="333.06" x2="453.90" y2="333.06" stroke="#222" stroke-width="0.75"/>
<text x="449.10" y="334.97" text-anchor="end" font-size="5.30" fill="#2a2a2a" stroke="#2a2a2a">80</text>
<line x1="451.50" y1="324.10" x2="453.90" y2="324.10" stroke="#222" stroke-width="0.75"/>
<text x="449.10" y="326.01" text-anchor="end" font-size="5.30" fill="#2a2a2a" stroke="#2a2a2a">100</text>
<line x1="460.90" y1="338.44" x2="460.90" y2="337.09" stroke="#111" stroke-width="0.6"/>
<line x1="459.30" y1="337.09" x2="462.50" y2="337.09" stroke="#111" stroke-width="0.6"/>
<rect x="457.50" y="338.44" width="6.80" height="30.46" fill="#1c4e8e"/>
<circle cx="459.40" cy="334.85" r="0.50" fill="#222"/>
<circle cx="462.40" cy="336.20" r="0.50" fill="#222"/>
<line x1="471.10" y1="347.62" x2="471.10" y2="346.05" stroke="#111" stroke-width="0.6"/>
<line x1="469.50" y1="346.05" x2="472.70" y2="346.05" stroke="#111" stroke-width="0.6"/>
<rect x="467.70" y="347.62" width="6.80" height="21.28" fill="#c8102e"/>
<circle cx="471.10" cy="331.27" r="0.50" fill="#222"/>
<circle cx="469.60" cy="337.54" r="0.50" fill="#222"/>
<circle cx="472.60" cy="337.54" r="0.50" fill="#222"/>
<line x1="460.90" y1="368.90" x2="460.90" y2="370.90" stroke="#222" stroke-width="0.7"/>
<line x1="471.10" y1="368.90" x2="471.10" y2="370.90" stroke="#222" stroke-width="0.7"/>
<line x1="495.20" y1="321.90" x2="495.20" y2="369.30" stroke="#222" stroke-width="0.85"/>
<line x1="492.80" y1="368.90" x2="519.70" y2="368.90" stroke="#222" stroke-width="0.85"/>
<line x1="492.80" y1="368.90" x2="495.20" y2="368.90" stroke="#222" stroke-width="0.75"/>
<text x="490.40" y="370.81" text-anchor="end" font-size="5.30" fill="#2a2a2a" stroke="#2a2a2a">0</text>
<line x1="492.80" y1="359.94" x2="495.20" y2="359.94" stroke="#222" stroke-width="0.75"/>
<text x="490.40" y="361.85" text-anchor="end" font-size="5.30" fill="#2a2a2a" stroke="#2a2a2a">20</text>
<line x1="492.80" y1="350.98" x2="495.20" y2="350.98" stroke="#222" stroke-width="0.75"/>
<text x="490.40" y="352.89" text-anchor="end" font-size="5.30" fill="#2a2a2a" stroke="#2a2a2a">40</text>
<line x1="492.80" y1="342.02" x2="495.20" y2="342.02" stroke="#222" stroke-width="0.75"/>
<text x="490.40" y="343.93" text-anchor="end" font-size="5.30" fill="#2a2a2a" stroke="#2a2a2a">60</text>
<line x1="492.80" y1="333.06" x2="495.20" y2="333.06" stroke="#222" stroke-width="0.75"/>
<text x="490.40" y="334.97" text-anchor="end" font-size="5.30" fill="#2a2a2a" stroke="#2a2a2a">80</text>
<line x1="492.80" y1="324.10" x2="495.20" y2="324.10" stroke="#222" stroke-width="0.75"/>
<text x="490.40" y="326.01" text-anchor="end" font-size="5.30" fill="#2a2a2a" stroke="#2a2a2a">100</text>
<line x1="502.20" y1="337.54" x2="502.20" y2="336.20" stroke="#111" stroke-width="0.6"/>
<line x1="500.60" y1="336.20" x2="503.80" y2="336.20" stroke="#111" stroke-width="0.6"/>
<rect x="498.80" y="337.54" width="6.80" height="31.36" fill="#1c4e8e"/>
<circle cx="500.70" cy="334.40" r="0.50" fill="#222"/>
<circle cx="503.70" cy="334.85" r="0.50" fill="#222"/>
<line x1="512.40" y1="343.59" x2="512.40" y2="342.02" stroke="#111" stroke-width="0.6"/>
<line x1="510.80" y1="342.02" x2="514.00" y2="342.02" stroke="#111" stroke-width="0.6"/>
<rect x="509.00" y="343.59" width="6.80" height="25.31" fill="#c8102e"/>
<circle cx="512.40" cy="331.27" r="0.50" fill="#222"/>
<circle cx="510.90" cy="338.44" r="0.50" fill="#222"/>
<circle cx="513.90" cy="337.54" r="0.50" fill="#222"/>
<line x1="502.20" y1="368.90" x2="502.20" y2="370.90" stroke="#222" stroke-width="0.7"/>
<line x1="512.40" y1="368.90" x2="512.40" y2="370.90" stroke="#222" stroke-width="0.7"/>
<text transform="translate(385.80,346.50) rotate(-90)" x="0" y="2.34" text-anchor="middle" font-size="6.50" fill="#2a2a2a" style="stroke-width:0.26px" textLength="60.20" lengthAdjust="spacingAndGlyphs" stroke="#2a2a2a">% of hCD45<tspan dy="-2.73" font-size="4.55">+</tspan><tspan dy="2.73"> hCD34<tspan dy="-2.73" font-size="4.55">+</tspan><tspan dy="2.73"> AML</tspan></tspan></text>
<text transform="translate(394.10,345.60) rotate(-90)" x="0" y="2.34" text-anchor="middle" font-size="6.50" fill="#2a2a2a" style="stroke-width:0.26px" textLength="45.00" lengthAdjust="spacingAndGlyphs" stroke="#2a2a2a">cells / hCD45<tspan dy="-2.73" font-size="4.55">+</tspan><tspan dy="2.73"> cells</tspan></text>
<text x="420.10" y="161.30" font-size="5.90" fill="#303030" font-weight="normal" textLength="8.50" lengthAdjust="spacingAndGlyphs" stroke="#303030">N.S.</text>
<text x="459.10" y="161.50" font-size="5.90" fill="#303030" font-weight="normal" textLength="8.70" lengthAdjust="spacingAndGlyphs" stroke="#303030">N.S.</text>
<path d="M500.30,163.50 V162.20 H510.70 V163.50" fill="none" stroke="#333" stroke-width="0.65"/>
<text x="505.50" y="162.40" text-anchor="middle" font-size="5.00" fill="#222" stroke="#222">*</text>
<text x="419.00" y="241.30" font-size="5.90" fill="#303030" font-weight="normal" textLength="8.60" lengthAdjust="spacingAndGlyphs" stroke="#303030">N.S.</text>
<path d="M460.70,244.00 V242.70 H471.00 V244.00" fill="none" stroke="#333" stroke-width="0.65"/>
<text x="465.85" y="242.20" text-anchor="middle" font-size="5.00" fill="#222" stroke="#222">**</text>
<path d="M502.40,244.10 V242.80 H512.80 V244.10" fill="none" stroke="#333" stroke-width="0.65"/>
<text x="507.60" y="242.20" text-anchor="middle" font-size="5.00" fill="#222" stroke="#222">**</text>
<text x="419.20" y="326.20" font-size="5.90" fill="#303030" font-weight="normal" textLength="8.00" lengthAdjust="spacingAndGlyphs" stroke="#303030">N.S.</text>
<path d="M459.50,328.50 V327.20 H471.00 V328.50" fill="none" stroke="#333" stroke-width="0.65"/>
<text x="465.25" y="327.40" text-anchor="middle" font-size="5.00" fill="#222" stroke="#222">***</text>
<path d="M500.70,329.10 V327.80 H511.70 V329.10" fill="none" stroke="#333" stroke-width="0.65"/>
<text x="506.20" y="327.40" text-anchor="middle" font-size="5.00" fill="#222" stroke="#222">**</text>
<rect x="431.10" y="378.60" width="5.60" height="7.00" fill="#1c4e8e"/>
<text x="440.10" y="383.60" font-size="5.90" fill="#303030" font-weight="normal" textLength="16.90" lengthAdjust="spacingAndGlyphs" stroke="#303030">Control</text>
<rect x="466.90" y="378.80" width="5.60" height="7.00" fill="#c8102e"/>
<text x="476.50" y="383.60" font-size="5.90" fill="#303030" font-weight="normal" textLength="24.40" lengthAdjust="spacingAndGlyphs" stroke="#303030">BCAA-free</text>
</g></svg>
</body></html>
